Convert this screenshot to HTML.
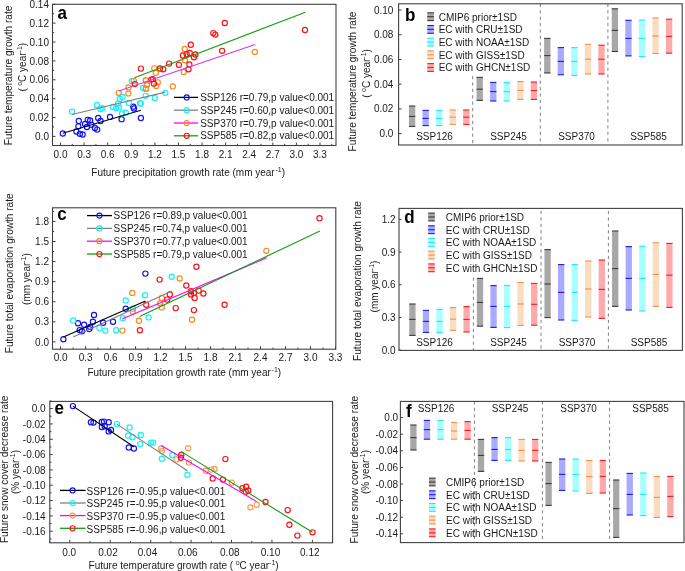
<!DOCTYPE html>
<html><head><meta charset="utf-8"><title>Figure</title>
<style>html,body{margin:0;padding:0;background:#fff;}svg{display:block;will-change:transform;}text{font-family:"Liberation Sans", sans-serif;}</style>
</head><body>
<svg width="685" height="571" viewBox="0 0 685 571" font-family='"Liberation Sans", sans-serif'>
<rect width="685" height="571" fill="#ffffff"/>
<line x1="52.5" y1="136.4" x2="55.5" y2="136.4" stroke="#404040" stroke-width="1"/>
<text x="49.0" y="140.0" font-size="10" text-anchor="end" font-weight="normal" fill="#1a1a1a" >0.0</text>
<line x1="52.5" y1="117.53" x2="55.5" y2="117.53" stroke="#404040" stroke-width="1"/>
<text x="49.0" y="121.13" font-size="10" text-anchor="end" font-weight="normal" fill="#1a1a1a" >0.02</text>
<line x1="52.5" y1="98.66" x2="55.5" y2="98.66" stroke="#404040" stroke-width="1"/>
<text x="49.0" y="102.25999999999999" font-size="10" text-anchor="end" font-weight="normal" fill="#1a1a1a" >0.04</text>
<line x1="52.5" y1="79.79" x2="55.5" y2="79.79" stroke="#404040" stroke-width="1"/>
<text x="49.0" y="83.39" font-size="10" text-anchor="end" font-weight="normal" fill="#1a1a1a" >0.06</text>
<line x1="52.5" y1="60.92" x2="55.5" y2="60.92" stroke="#404040" stroke-width="1"/>
<text x="49.0" y="64.52" font-size="10" text-anchor="end" font-weight="normal" fill="#1a1a1a" >0.08</text>
<line x1="52.5" y1="42.05" x2="55.5" y2="42.05" stroke="#404040" stroke-width="1"/>
<text x="49.0" y="45.65" font-size="10" text-anchor="end" font-weight="normal" fill="#1a1a1a" >0.10</text>
<line x1="52.5" y1="23.180000000000007" x2="55.5" y2="23.180000000000007" stroke="#404040" stroke-width="1"/>
<text x="49.0" y="26.78000000000001" font-size="10" text-anchor="end" font-weight="normal" fill="#1a1a1a" >0.12</text>
<line x1="52.5" y1="4.310000000000002" x2="55.5" y2="4.310000000000002" stroke="#404040" stroke-width="1"/>
<text x="49.0" y="7.910000000000002" font-size="10" text-anchor="end" font-weight="normal" fill="#1a1a1a" >0.14</text>
<line x1="52.5" y1="126.965" x2="54.15" y2="126.965" stroke="#404040" stroke-width="1"/>
<line x1="52.5" y1="108.095" x2="54.15" y2="108.095" stroke="#404040" stroke-width="1"/>
<line x1="52.5" y1="89.225" x2="54.15" y2="89.225" stroke="#404040" stroke-width="1"/>
<line x1="52.5" y1="70.355" x2="54.15" y2="70.355" stroke="#404040" stroke-width="1"/>
<line x1="52.5" y1="51.485" x2="54.15" y2="51.485" stroke="#404040" stroke-width="1"/>
<line x1="52.5" y1="32.615" x2="54.15" y2="32.615" stroke="#404040" stroke-width="1"/>
<line x1="52.5" y1="13.745000000000005" x2="54.15" y2="13.745000000000005" stroke="#404040" stroke-width="1"/>
<line x1="60.5" y1="145.5" x2="60.5" y2="142.5" stroke="#404040" stroke-width="1"/>
<text x="60.5" y="157.7" font-size="10" text-anchor="middle" font-weight="normal" fill="#1a1a1a" >0.0</text>
<line x1="84.09" y1="145.5" x2="84.09" y2="142.5" stroke="#404040" stroke-width="1"/>
<text x="84.09" y="157.7" font-size="10" text-anchor="middle" font-weight="normal" fill="#1a1a1a" >0.3</text>
<line x1="107.68" y1="145.5" x2="107.68" y2="142.5" stroke="#404040" stroke-width="1"/>
<text x="107.68" y="157.7" font-size="10" text-anchor="middle" font-weight="normal" fill="#1a1a1a" >0.6</text>
<line x1="131.26999999999998" y1="145.5" x2="131.26999999999998" y2="142.5" stroke="#404040" stroke-width="1"/>
<text x="131.26999999999998" y="157.7" font-size="10" text-anchor="middle" font-weight="normal" fill="#1a1a1a" >0.9</text>
<line x1="154.86" y1="145.5" x2="154.86" y2="142.5" stroke="#404040" stroke-width="1"/>
<text x="154.86" y="157.7" font-size="10" text-anchor="middle" font-weight="normal" fill="#1a1a1a" >1.2</text>
<line x1="178.45" y1="145.5" x2="178.45" y2="142.5" stroke="#404040" stroke-width="1"/>
<text x="178.45" y="157.7" font-size="10" text-anchor="middle" font-weight="normal" fill="#1a1a1a" >1.5</text>
<line x1="202.04" y1="145.5" x2="202.04" y2="142.5" stroke="#404040" stroke-width="1"/>
<text x="202.04" y="157.7" font-size="10" text-anchor="middle" font-weight="normal" fill="#1a1a1a" >1.8</text>
<line x1="225.63" y1="145.5" x2="225.63" y2="142.5" stroke="#404040" stroke-width="1"/>
<text x="225.63" y="157.7" font-size="10" text-anchor="middle" font-weight="normal" fill="#1a1a1a" >2.1</text>
<line x1="249.22" y1="145.5" x2="249.22" y2="142.5" stroke="#404040" stroke-width="1"/>
<text x="249.22" y="157.7" font-size="10" text-anchor="middle" font-weight="normal" fill="#1a1a1a" >2.4</text>
<line x1="272.81" y1="145.5" x2="272.81" y2="142.5" stroke="#404040" stroke-width="1"/>
<text x="272.81" y="157.7" font-size="10" text-anchor="middle" font-weight="normal" fill="#1a1a1a" >2.7</text>
<line x1="296.4" y1="145.5" x2="296.4" y2="142.5" stroke="#404040" stroke-width="1"/>
<text x="296.4" y="157.7" font-size="10" text-anchor="middle" font-weight="normal" fill="#1a1a1a" >3.0</text>
<line x1="319.99" y1="145.5" x2="319.99" y2="142.5" stroke="#404040" stroke-width="1"/>
<text x="319.99" y="157.7" font-size="10" text-anchor="middle" font-weight="normal" fill="#1a1a1a" >3.3</text>
<line x1="72.295" y1="145.5" x2="72.295" y2="143.85" stroke="#404040" stroke-width="1"/>
<line x1="95.885" y1="145.5" x2="95.885" y2="143.85" stroke="#404040" stroke-width="1"/>
<line x1="119.475" y1="145.5" x2="119.475" y2="143.85" stroke="#404040" stroke-width="1"/>
<line x1="143.065" y1="145.5" x2="143.065" y2="143.85" stroke="#404040" stroke-width="1"/>
<line x1="166.655" y1="145.5" x2="166.655" y2="143.85" stroke="#404040" stroke-width="1"/>
<line x1="190.245" y1="145.5" x2="190.245" y2="143.85" stroke="#404040" stroke-width="1"/>
<line x1="213.83499999999998" y1="145.5" x2="213.83499999999998" y2="143.85" stroke="#404040" stroke-width="1"/>
<line x1="237.425" y1="145.5" x2="237.425" y2="143.85" stroke="#404040" stroke-width="1"/>
<line x1="261.015" y1="145.5" x2="261.015" y2="143.85" stroke="#404040" stroke-width="1"/>
<line x1="284.605" y1="145.5" x2="284.605" y2="143.85" stroke="#404040" stroke-width="1"/>
<line x1="308.195" y1="145.5" x2="308.195" y2="143.85" stroke="#404040" stroke-width="1"/>
<line x1="331.79" y1="145.5" x2="331.79" y2="143.85" stroke="#404040" stroke-width="1"/>
<circle cx="62.8" cy="133.5" r="2.6" fill="none" stroke="#1010ff" stroke-width="1.15"/>
<circle cx="76.4" cy="131.5" r="2.6" fill="none" stroke="#1010ff" stroke-width="1.15"/>
<circle cx="79.9" cy="133.8" r="2.6" fill="none" stroke="#1010ff" stroke-width="1.15"/>
<circle cx="82.6" cy="134.5" r="2.6" fill="none" stroke="#1010ff" stroke-width="1.15"/>
<circle cx="78.8" cy="121" r="2.6" fill="none" stroke="#1010ff" stroke-width="1.15"/>
<circle cx="78.4" cy="126.3" r="2.6" fill="none" stroke="#1010ff" stroke-width="1.15"/>
<circle cx="85.1" cy="124" r="2.6" fill="none" stroke="#1010ff" stroke-width="1.15"/>
<circle cx="87.7" cy="119.8" r="2.6" fill="none" stroke="#1010ff" stroke-width="1.15"/>
<circle cx="90.1" cy="120.5" r="2.6" fill="none" stroke="#1010ff" stroke-width="1.15"/>
<circle cx="86.9" cy="127" r="2.6" fill="none" stroke="#1010ff" stroke-width="1.15"/>
<circle cx="91.5" cy="124.8" r="2.6" fill="none" stroke="#1010ff" stroke-width="1.15"/>
<circle cx="94.9" cy="128" r="2.6" fill="none" stroke="#1010ff" stroke-width="1.15"/>
<circle cx="97.2" cy="129.6" r="2.6" fill="none" stroke="#1010ff" stroke-width="1.15"/>
<circle cx="98.2" cy="118" r="2.6" fill="none" stroke="#1010ff" stroke-width="1.15"/>
<circle cx="100.5" cy="121" r="2.6" fill="none" stroke="#1010ff" stroke-width="1.15"/>
<circle cx="110" cy="116.9" r="2.6" fill="none" stroke="#1010ff" stroke-width="1.15"/>
<circle cx="121.6" cy="119.2" r="2.6" fill="none" stroke="#1010ff" stroke-width="1.15"/>
<circle cx="133.3" cy="106.7" r="2.6" fill="none" stroke="#1010ff" stroke-width="1.15"/>
<circle cx="134" cy="108.5" r="2.6" fill="none" stroke="#1010ff" stroke-width="1.15"/>
<circle cx="140.9" cy="118" r="2.6" fill="none" stroke="#1010ff" stroke-width="1.15"/>
<circle cx="72" cy="111.7" r="2.6" fill="none" stroke="#10f2fa" stroke-width="1.15"/>
<circle cx="96.9" cy="104.9" r="2.6" fill="none" stroke="#10f2fa" stroke-width="1.15"/>
<circle cx="100.5" cy="109" r="2.6" fill="none" stroke="#10f2fa" stroke-width="1.15"/>
<circle cx="102.5" cy="108.2" r="2.6" fill="none" stroke="#10f2fa" stroke-width="1.15"/>
<circle cx="113" cy="107" r="2.6" fill="none" stroke="#10f2fa" stroke-width="1.15"/>
<circle cx="116" cy="107.9" r="2.6" fill="none" stroke="#10f2fa" stroke-width="1.15"/>
<circle cx="119" cy="107.4" r="2.6" fill="none" stroke="#10f2fa" stroke-width="1.15"/>
<circle cx="118" cy="103.7" r="2.6" fill="none" stroke="#10f2fa" stroke-width="1.15"/>
<circle cx="119.8" cy="98.9" r="2.6" fill="none" stroke="#10f2fa" stroke-width="1.15"/>
<circle cx="122.5" cy="96.9" r="2.6" fill="none" stroke="#10f2fa" stroke-width="1.15"/>
<circle cx="128.8" cy="102.9" r="2.6" fill="none" stroke="#10f2fa" stroke-width="1.15"/>
<circle cx="140.1" cy="103.4" r="2.6" fill="none" stroke="#10f2fa" stroke-width="1.15"/>
<circle cx="145.7" cy="95.8" r="2.6" fill="none" stroke="#10f2fa" stroke-width="1.15"/>
<circle cx="143.1" cy="87.9" r="2.6" fill="none" stroke="#10f2fa" stroke-width="1.15"/>
<circle cx="131.8" cy="81.1" r="2.6" fill="none" stroke="#10f2fa" stroke-width="1.15"/>
<circle cx="122" cy="113.5" r="2.6" fill="none" stroke="#10f2fa" stroke-width="1.15"/>
<circle cx="125.8" cy="112.7" r="2.6" fill="none" stroke="#10f2fa" stroke-width="1.15"/>
<circle cx="165.3" cy="92.8" r="2.6" fill="none" stroke="#10f2fa" stroke-width="1.15"/>
<circle cx="154.8" cy="98" r="2.6" fill="none" stroke="#10f2fa" stroke-width="1.15"/>
<circle cx="140.8" cy="103.4" r="2.6" fill="none" stroke="#10f2fa" stroke-width="1.15"/>
<circle cx="118.7" cy="92.8" r="2.6" fill="none" stroke="#f28a22" stroke-width="1.15"/>
<circle cx="128.4" cy="87.4" r="2.6" fill="none" stroke="#f28a22" stroke-width="1.15"/>
<circle cx="128.4" cy="93.4" r="2.6" fill="none" stroke="#f28a22" stroke-width="1.15"/>
<circle cx="133.8" cy="80.8" r="2.6" fill="none" stroke="#f28a22" stroke-width="1.15"/>
<circle cx="145.8" cy="80.3" r="2.6" fill="none" stroke="#f28a22" stroke-width="1.15"/>
<circle cx="146.9" cy="84.8" r="2.6" fill="none" stroke="#f28a22" stroke-width="1.15"/>
<circle cx="145.8" cy="88.9" r="2.6" fill="none" stroke="#f28a22" stroke-width="1.15"/>
<circle cx="172.8" cy="86.4" r="2.6" fill="none" stroke="#f28a22" stroke-width="1.15"/>
<circle cx="146" cy="80.3" r="2.6" fill="none" stroke="#f28a22" stroke-width="1.15"/>
<circle cx="146.8" cy="84.5" r="2.6" fill="none" stroke="#f28a22" stroke-width="1.15"/>
<circle cx="146" cy="88.6" r="2.6" fill="none" stroke="#f28a22" stroke-width="1.15"/>
<circle cx="156.3" cy="85.9" r="2.6" fill="none" stroke="#f28a22" stroke-width="1.15"/>
<circle cx="157.8" cy="82.3" r="2.6" fill="none" stroke="#f28a22" stroke-width="1.15"/>
<circle cx="154.3" cy="68.3" r="2.6" fill="none" stroke="#f28a22" stroke-width="1.15"/>
<circle cx="155.8" cy="72.8" r="2.6" fill="none" stroke="#f28a22" stroke-width="1.15"/>
<circle cx="183.7" cy="72" r="2.6" fill="none" stroke="#f28a22" stroke-width="1.15"/>
<circle cx="184.7" cy="48.9" r="2.6" fill="none" stroke="#f28a22" stroke-width="1.15"/>
<circle cx="184.9" cy="60.2" r="2.6" fill="none" stroke="#f28a22" stroke-width="1.15"/>
<circle cx="254.8" cy="52" r="2.6" fill="none" stroke="#f28a22" stroke-width="1.15"/>
<circle cx="140.9" cy="68.6" r="2.6" fill="none" stroke="#ff1010" stroke-width="1.15"/>
<circle cx="134.8" cy="84.1" r="2.6" fill="none" stroke="#ff1010" stroke-width="1.15"/>
<circle cx="151.4" cy="79.6" r="2.6" fill="none" stroke="#ff1010" stroke-width="1.15"/>
<circle cx="224.8" cy="23" r="2.6" fill="none" stroke="#ff1010" stroke-width="1.15"/>
<circle cx="213.3" cy="33.1" r="2.6" fill="none" stroke="#ff1010" stroke-width="1.15"/>
<circle cx="215.3" cy="34.6" r="2.6" fill="none" stroke="#ff1010" stroke-width="1.15"/>
<circle cx="190.8" cy="44.7" r="2.6" fill="none" stroke="#ff1010" stroke-width="1.15"/>
<circle cx="222.1" cy="50.8" r="2.6" fill="none" stroke="#ff1010" stroke-width="1.15"/>
<circle cx="182.9" cy="55.4" r="2.6" fill="none" stroke="#ff1010" stroke-width="1.15"/>
<circle cx="186.7" cy="54.2" r="2.6" fill="none" stroke="#ff1010" stroke-width="1.15"/>
<circle cx="189.7" cy="53" r="2.6" fill="none" stroke="#ff1010" stroke-width="1.15"/>
<circle cx="195.4" cy="54.5" r="2.6" fill="none" stroke="#ff1010" stroke-width="1.15"/>
<circle cx="193.9" cy="57.2" r="2.6" fill="none" stroke="#ff1010" stroke-width="1.15"/>
<circle cx="178.9" cy="64.8" r="2.6" fill="none" stroke="#ff1010" stroke-width="1.15"/>
<circle cx="189.4" cy="64.5" r="2.6" fill="none" stroke="#ff1010" stroke-width="1.15"/>
<circle cx="188.5" cy="69.3" r="2.6" fill="none" stroke="#ff1010" stroke-width="1.15"/>
<circle cx="169.1" cy="63.6" r="2.6" fill="none" stroke="#ff1010" stroke-width="1.15"/>
<circle cx="163.3" cy="69.3" r="2.6" fill="none" stroke="#ff1010" stroke-width="1.15"/>
<circle cx="160" cy="68.5" r="2.6" fill="none" stroke="#ff1010" stroke-width="1.15"/>
<circle cx="152.8" cy="79.1" r="2.6" fill="none" stroke="#ff1010" stroke-width="1.15"/>
<circle cx="153.9" cy="83.6" r="2.6" fill="none" stroke="#ff1010" stroke-width="1.15"/>
<circle cx="305" cy="30" r="2.6" fill="none" stroke="#ff1010" stroke-width="1.15"/>
<line x1="62.8" y1="133.2" x2="140.9" y2="110.2" stroke="#000000" stroke-width="1.1"/>
<line x1="72" y1="114.5" x2="165.3" y2="92.1" stroke="#808080" stroke-width="1.1"/>
<line x1="118.7" y1="90.9" x2="255.2" y2="44.4" stroke="#cc3cf0" stroke-width="1.1"/>
<line x1="134.5" y1="77.8" x2="305.4" y2="12.2" stroke="#10a010" stroke-width="1.1"/>
<rect x="52.5" y="4.3" width="283.5" height="141.2" fill="none" stroke="#404040" stroke-width="1.1"/>
<text x="0" y="0" font-size="17" font-weight="bold" fill="#000" transform="translate(57.4,18.6) scale(1,1.08)">a</text>
<line x1="174" y1="97.4" x2="198" y2="97.4" stroke="#000000" stroke-width="1.3"/>
<circle cx="186.7" cy="97.4" r="2.55" fill="none" stroke="#1010ff" stroke-width="1.15"/>
<text x="200.2" y="101.0" font-size="10" text-anchor="start" font-weight="normal" fill="#1a1a1a" >SSP126 r=0.79,p value&lt;0.001</text>
<line x1="174" y1="110.2" x2="198" y2="110.2" stroke="#808080" stroke-width="1.3"/>
<circle cx="186.7" cy="110.2" r="2.55" fill="none" stroke="#10f2fa" stroke-width="1.15"/>
<text x="200.2" y="113.8" font-size="10" text-anchor="start" font-weight="normal" fill="#1a1a1a" >SSP245 r=0.60,p value&lt;0.001</text>
<line x1="174" y1="123.0" x2="198" y2="123.0" stroke="#ff00ff" stroke-width="1.3"/>
<circle cx="186.7" cy="123.0" r="2.55" fill="none" stroke="#f28a22" stroke-width="1.15"/>
<text x="200.2" y="126.6" font-size="10" text-anchor="start" font-weight="normal" fill="#1a1a1a" >SSP370 r=0.79,p value&lt;0.001</text>
<line x1="174" y1="135.8" x2="198" y2="135.8" stroke="#10a010" stroke-width="1.3"/>
<circle cx="186.7" cy="135.8" r="2.55" fill="none" stroke="#ff1010" stroke-width="1.15"/>
<text x="200.2" y="139.4" font-size="10" text-anchor="start" font-weight="normal" fill="#1a1a1a" >SSP585 r=0.82,p value&lt;0.001</text>
<text x="0" y="0" font-size="10.1" text-anchor="middle" fill="#1a1a1a" transform="translate(11.9,75.45) rotate(-90)">Future temperature growth rate</text>
<text x="0" y="0" font-size="10" text-anchor="middle" fill="#1a1a1a" transform="translate(26.0,67.2) rotate(-90)">(<tspan font-size="7" dy="-4" dx="2.4">o</tspan><tspan dy="4">C year</tspan><tspan font-size="7" dy="-4">-1</tspan><tspan dy="4">)</tspan></text>
<text x="91.3" y="175.7" font-size="10" text-anchor="start" font-weight="normal" fill="#1a1a1a" >Future precipitation growth rate (mm year<tspan font-size="7" dy="-4" dx="0.8">-1</tspan><tspan dy="4">)</tspan></text>
<line x1="52.5" y1="341.9" x2="55.5" y2="341.9" stroke="#404040" stroke-width="1"/>
<text x="49.0" y="345.5" font-size="10" text-anchor="end" font-weight="normal" fill="#1a1a1a" >0.0</text>
<line x1="52.5" y1="321.82" x2="55.5" y2="321.82" stroke="#404040" stroke-width="1"/>
<text x="49.0" y="325.42" font-size="10" text-anchor="end" font-weight="normal" fill="#1a1a1a" >0.3</text>
<line x1="52.5" y1="301.74" x2="55.5" y2="301.74" stroke="#404040" stroke-width="1"/>
<text x="49.0" y="305.34000000000003" font-size="10" text-anchor="end" font-weight="normal" fill="#1a1a1a" >0.6</text>
<line x1="52.5" y1="281.65999999999997" x2="55.5" y2="281.65999999999997" stroke="#404040" stroke-width="1"/>
<text x="49.0" y="285.26" font-size="10" text-anchor="end" font-weight="normal" fill="#1a1a1a" >0.9</text>
<line x1="52.5" y1="261.58" x2="55.5" y2="261.58" stroke="#404040" stroke-width="1"/>
<text x="49.0" y="265.18" font-size="10" text-anchor="end" font-weight="normal" fill="#1a1a1a" >1.2</text>
<line x1="52.5" y1="241.5" x2="55.5" y2="241.5" stroke="#404040" stroke-width="1"/>
<text x="49.0" y="245.1" font-size="10" text-anchor="end" font-weight="normal" fill="#1a1a1a" >1.5</text>
<line x1="52.5" y1="221.42" x2="55.5" y2="221.42" stroke="#404040" stroke-width="1"/>
<text x="49.0" y="225.01999999999998" font-size="10" text-anchor="end" font-weight="normal" fill="#1a1a1a" >1.8</text>
<line x1="52.5" y1="331.86" x2="54.15" y2="331.86" stroke="#404040" stroke-width="1"/>
<line x1="52.5" y1="311.78" x2="54.15" y2="311.78" stroke="#404040" stroke-width="1"/>
<line x1="52.5" y1="291.7" x2="54.15" y2="291.7" stroke="#404040" stroke-width="1"/>
<line x1="52.5" y1="271.62" x2="54.15" y2="271.62" stroke="#404040" stroke-width="1"/>
<line x1="52.5" y1="251.54" x2="54.15" y2="251.54" stroke="#404040" stroke-width="1"/>
<line x1="52.5" y1="231.45999999999998" x2="54.15" y2="231.45999999999998" stroke="#404040" stroke-width="1"/>
<line x1="52.5" y1="211.38" x2="54.15" y2="211.38" stroke="#404040" stroke-width="1"/>
<line x1="60.6" y1="349.2" x2="60.6" y2="346.2" stroke="#404040" stroke-width="1"/>
<text x="60.6" y="361.2" font-size="10" text-anchor="middle" font-weight="normal" fill="#1a1a1a" >0.0</text>
<line x1="85.59" y1="349.2" x2="85.59" y2="346.2" stroke="#404040" stroke-width="1"/>
<text x="85.59" y="361.2" font-size="10" text-anchor="middle" font-weight="normal" fill="#1a1a1a" >0.3</text>
<line x1="110.58" y1="349.2" x2="110.58" y2="346.2" stroke="#404040" stroke-width="1"/>
<text x="110.58" y="361.2" font-size="10" text-anchor="middle" font-weight="normal" fill="#1a1a1a" >0.6</text>
<line x1="135.57" y1="349.2" x2="135.57" y2="346.2" stroke="#404040" stroke-width="1"/>
<text x="135.57" y="361.2" font-size="10" text-anchor="middle" font-weight="normal" fill="#1a1a1a" >0.9</text>
<line x1="160.56" y1="349.2" x2="160.56" y2="346.2" stroke="#404040" stroke-width="1"/>
<text x="160.56" y="361.2" font-size="10" text-anchor="middle" font-weight="normal" fill="#1a1a1a" >1.2</text>
<line x1="185.54999999999998" y1="349.2" x2="185.54999999999998" y2="346.2" stroke="#404040" stroke-width="1"/>
<text x="185.54999999999998" y="361.2" font-size="10" text-anchor="middle" font-weight="normal" fill="#1a1a1a" >1.5</text>
<line x1="210.54" y1="349.2" x2="210.54" y2="346.2" stroke="#404040" stroke-width="1"/>
<text x="210.54" y="361.2" font-size="10" text-anchor="middle" font-weight="normal" fill="#1a1a1a" >1.8</text>
<line x1="235.52999999999997" y1="349.2" x2="235.52999999999997" y2="346.2" stroke="#404040" stroke-width="1"/>
<text x="235.52999999999997" y="361.2" font-size="10" text-anchor="middle" font-weight="normal" fill="#1a1a1a" >2.1</text>
<line x1="260.52" y1="349.2" x2="260.52" y2="346.2" stroke="#404040" stroke-width="1"/>
<text x="260.52" y="361.2" font-size="10" text-anchor="middle" font-weight="normal" fill="#1a1a1a" >2.4</text>
<line x1="285.51" y1="349.2" x2="285.51" y2="346.2" stroke="#404040" stroke-width="1"/>
<text x="285.51" y="361.2" font-size="10" text-anchor="middle" font-weight="normal" fill="#1a1a1a" >2.7</text>
<line x1="310.5" y1="349.2" x2="310.5" y2="346.2" stroke="#404040" stroke-width="1"/>
<text x="310.5" y="361.2" font-size="10" text-anchor="middle" font-weight="normal" fill="#1a1a1a" >3.0</text>
<line x1="335.49" y1="349.2" x2="335.49" y2="346.2" stroke="#404040" stroke-width="1"/>
<text x="335.49" y="361.2" font-size="10" text-anchor="middle" font-weight="normal" fill="#1a1a1a" >3.3</text>
<line x1="73.095" y1="349.2" x2="73.095" y2="347.55" stroke="#404040" stroke-width="1"/>
<line x1="98.08500000000001" y1="349.2" x2="98.08500000000001" y2="347.55" stroke="#404040" stroke-width="1"/>
<line x1="123.07499999999999" y1="349.2" x2="123.07499999999999" y2="347.55" stroke="#404040" stroke-width="1"/>
<line x1="148.065" y1="349.2" x2="148.065" y2="347.55" stroke="#404040" stroke-width="1"/>
<line x1="173.055" y1="349.2" x2="173.055" y2="347.55" stroke="#404040" stroke-width="1"/>
<line x1="198.045" y1="349.2" x2="198.045" y2="347.55" stroke="#404040" stroke-width="1"/>
<line x1="223.03499999999997" y1="349.2" x2="223.03499999999997" y2="347.55" stroke="#404040" stroke-width="1"/>
<line x1="248.02499999999998" y1="349.2" x2="248.02499999999998" y2="347.55" stroke="#404040" stroke-width="1"/>
<line x1="273.015" y1="349.2" x2="273.015" y2="347.55" stroke="#404040" stroke-width="1"/>
<line x1="298.005" y1="349.2" x2="298.005" y2="347.55" stroke="#404040" stroke-width="1"/>
<line x1="322.995" y1="349.2" x2="322.995" y2="347.55" stroke="#404040" stroke-width="1"/>
<circle cx="63.4" cy="339.3" r="2.6" fill="none" stroke="#1010ff" stroke-width="1.15"/>
<circle cx="78" cy="323.3" r="2.6" fill="none" stroke="#1010ff" stroke-width="1.15"/>
<circle cx="84.1" cy="324.7" r="2.6" fill="none" stroke="#1010ff" stroke-width="1.15"/>
<circle cx="79.7" cy="330.1" r="2.6" fill="none" stroke="#1010ff" stroke-width="1.15"/>
<circle cx="81.9" cy="331.3" r="2.6" fill="none" stroke="#1010ff" stroke-width="1.15"/>
<circle cx="89.2" cy="329.1" r="2.6" fill="none" stroke="#1010ff" stroke-width="1.15"/>
<circle cx="90.2" cy="326.9" r="2.6" fill="none" stroke="#1010ff" stroke-width="1.15"/>
<circle cx="92.9" cy="321.8" r="2.6" fill="none" stroke="#1010ff" stroke-width="1.15"/>
<circle cx="94" cy="315" r="2.6" fill="none" stroke="#1010ff" stroke-width="1.15"/>
<circle cx="103.1" cy="322.8" r="2.6" fill="none" stroke="#1010ff" stroke-width="1.15"/>
<circle cx="113" cy="321.8" r="2.6" fill="none" stroke="#1010ff" stroke-width="1.15"/>
<circle cx="125.7" cy="308.7" r="2.6" fill="none" stroke="#1010ff" stroke-width="1.15"/>
<circle cx="145.4" cy="273.6" r="2.6" fill="none" stroke="#1010ff" stroke-width="1.15"/>
<circle cx="73.2" cy="320.4" r="2.6" fill="none" stroke="#10f2fa" stroke-width="1.15"/>
<circle cx="99.4" cy="328.1" r="2.6" fill="none" stroke="#10f2fa" stroke-width="1.15"/>
<circle cx="105.3" cy="330.6" r="2.6" fill="none" stroke="#10f2fa" stroke-width="1.15"/>
<circle cx="116.2" cy="330.3" r="2.6" fill="none" stroke="#10f2fa" stroke-width="1.15"/>
<circle cx="122.8" cy="318.2" r="2.6" fill="none" stroke="#10f2fa" stroke-width="1.15"/>
<circle cx="125.7" cy="300.4" r="2.6" fill="none" stroke="#10f2fa" stroke-width="1.15"/>
<circle cx="133" cy="308.7" r="2.6" fill="none" stroke="#10f2fa" stroke-width="1.15"/>
<circle cx="145.1" cy="295.3" r="2.6" fill="none" stroke="#10f2fa" stroke-width="1.15"/>
<circle cx="148.6" cy="317.4" r="2.6" fill="none" stroke="#10f2fa" stroke-width="1.15"/>
<circle cx="171.7" cy="276.7" r="2.6" fill="none" stroke="#10f2fa" stroke-width="1.15"/>
<circle cx="132.3" cy="292.9" r="2.6" fill="none" stroke="#f28a22" stroke-width="1.15"/>
<circle cx="132.7" cy="311.6" r="2.6" fill="none" stroke="#f28a22" stroke-width="1.15"/>
<circle cx="138.9" cy="320.7" r="2.6" fill="none" stroke="#f28a22" stroke-width="1.15"/>
<circle cx="122.4" cy="330.6" r="2.6" fill="none" stroke="#f28a22" stroke-width="1.15"/>
<circle cx="179.7" cy="278.5" r="2.6" fill="none" stroke="#f28a22" stroke-width="1.15"/>
<circle cx="161.8" cy="297.9" r="2.6" fill="none" stroke="#f28a22" stroke-width="1.15"/>
<circle cx="161.8" cy="307.4" r="2.6" fill="none" stroke="#f28a22" stroke-width="1.15"/>
<circle cx="160.3" cy="303.3" r="2.6" fill="none" stroke="#f28a22" stroke-width="1.15"/>
<circle cx="192" cy="319.8" r="2.6" fill="none" stroke="#f28a22" stroke-width="1.15"/>
<circle cx="266.4" cy="250.8" r="2.6" fill="none" stroke="#f28a22" stroke-width="1.15"/>
<circle cx="146.2" cy="304.7" r="2.6" fill="none" stroke="#ff1010" stroke-width="1.15"/>
<circle cx="139.9" cy="330.3" r="2.6" fill="none" stroke="#ff1010" stroke-width="1.15"/>
<circle cx="196.4" cy="266.8" r="2.6" fill="none" stroke="#ff1010" stroke-width="1.15"/>
<circle cx="159.6" cy="279.6" r="2.6" fill="none" stroke="#ff1010" stroke-width="1.15"/>
<circle cx="186.3" cy="285.5" r="2.6" fill="none" stroke="#ff1010" stroke-width="1.15"/>
<circle cx="191" cy="291.2" r="2.6" fill="none" stroke="#ff1010" stroke-width="1.15"/>
<circle cx="193.9" cy="293.1" r="2.6" fill="none" stroke="#ff1010" stroke-width="1.15"/>
<circle cx="198.7" cy="290.6" r="2.6" fill="none" stroke="#ff1010" stroke-width="1.15"/>
<circle cx="203.4" cy="293.5" r="2.6" fill="none" stroke="#ff1010" stroke-width="1.15"/>
<circle cx="191" cy="294.5" r="2.6" fill="none" stroke="#ff1010" stroke-width="1.15"/>
<circle cx="194.6" cy="297.9" r="2.6" fill="none" stroke="#ff1010" stroke-width="1.15"/>
<circle cx="169.8" cy="294.5" r="2.6" fill="none" stroke="#ff1010" stroke-width="1.15"/>
<circle cx="167.2" cy="299.6" r="2.6" fill="none" stroke="#ff1010" stroke-width="1.15"/>
<circle cx="175.7" cy="308.1" r="2.6" fill="none" stroke="#ff1010" stroke-width="1.15"/>
<circle cx="193.9" cy="310.1" r="2.6" fill="none" stroke="#ff1010" stroke-width="1.15"/>
<circle cx="224.6" cy="304.7" r="2.6" fill="none" stroke="#ff1010" stroke-width="1.15"/>
<circle cx="319.5" cy="218.2" r="2.6" fill="none" stroke="#ff1010" stroke-width="1.15"/>
<line x1="63.4" y1="336.9" x2="145.4" y2="301" stroke="#000000" stroke-width="1.1"/>
<line x1="73.2" y1="336.9" x2="171.7" y2="290.9" stroke="#808080" stroke-width="1.1"/>
<line x1="122" y1="318.9" x2="266.7" y2="257.8" stroke="#ff00ff" stroke-width="1.1"/>
<line x1="139.6" y1="316.4" x2="319.9" y2="231.1" stroke="#10a010" stroke-width="1.1"/>
<rect x="52.5" y="207.8" width="283.3" height="141.39999999999998" fill="none" stroke="#404040" stroke-width="1.1"/>
<text x="0" y="0" font-size="17" font-weight="bold" fill="#000" transform="translate(57.3,219.8) scale(1,1.08)">c</text>
<line x1="87" y1="215.6" x2="112" y2="215.6" stroke="#000000" stroke-width="1.3"/>
<circle cx="99.4" cy="215.6" r="2.55" fill="none" stroke="#1010ff" stroke-width="1.15"/>
<text x="113.6" y="219.2" font-size="10" text-anchor="start" font-weight="normal" fill="#1a1a1a" >SSP126 r=0.89,p value&lt;0.001</text>
<line x1="87" y1="228.4" x2="112" y2="228.4" stroke="#808080" stroke-width="1.3"/>
<circle cx="99.4" cy="228.4" r="2.55" fill="none" stroke="#10f2fa" stroke-width="1.15"/>
<text x="113.6" y="232.0" font-size="10" text-anchor="start" font-weight="normal" fill="#1a1a1a" >SSP245 r=0.74,p value&lt;0.001</text>
<line x1="87" y1="241.2" x2="112" y2="241.2" stroke="#ff00ff" stroke-width="1.3"/>
<circle cx="99.4" cy="241.2" r="2.55" fill="none" stroke="#f28a22" stroke-width="1.15"/>
<text x="113.6" y="244.79999999999998" font-size="10" text-anchor="start" font-weight="normal" fill="#1a1a1a" >SSP370 r=0.77,p value&lt;0.001</text>
<line x1="87" y1="254.0" x2="112" y2="254.0" stroke="#10a010" stroke-width="1.3"/>
<circle cx="99.4" cy="254.0" r="2.55" fill="none" stroke="#ff1010" stroke-width="1.15"/>
<text x="113.6" y="257.6" font-size="10" text-anchor="start" font-weight="normal" fill="#1a1a1a" >SSP585 r=0.79,p value&lt;0.001</text>
<text x="0" y="0" font-size="10.1" text-anchor="middle" fill="#1a1a1a" transform="translate(12.9,273.3) rotate(-90)">Future total evaporation growth rate</text>
<text x="0" y="0" font-size="10" text-anchor="middle" fill="#1a1a1a" transform="translate(29.5,279) rotate(-90)">(mm year<tspan font-size="7" dy="-4">-1</tspan><tspan dy="4">)</tspan></text>
<text x="87.4" y="375.7" font-size="10" text-anchor="start" font-weight="normal" fill="#1a1a1a" >Future precipitation growth rate (mm year<tspan font-size="7" dy="-4" dx="0.8">-1</tspan><tspan dy="4">)</tspan></text>
<line x1="49.8" y1="408.6" x2="52.8" y2="408.6" stroke="#404040" stroke-width="1"/>
<text x="45.599999999999994" y="412.20000000000005" font-size="10" text-anchor="end" font-weight="normal" fill="#1a1a1a" >0.0</text>
<line x1="49.8" y1="423.93" x2="52.8" y2="423.93" stroke="#404040" stroke-width="1"/>
<text x="45.599999999999994" y="427.53000000000003" font-size="10" text-anchor="end" font-weight="normal" fill="#1a1a1a" >-0.02</text>
<line x1="49.8" y1="439.26000000000005" x2="52.8" y2="439.26000000000005" stroke="#404040" stroke-width="1"/>
<text x="45.599999999999994" y="442.86000000000007" font-size="10" text-anchor="end" font-weight="normal" fill="#1a1a1a" >-0.04</text>
<line x1="49.8" y1="454.59000000000003" x2="52.8" y2="454.59000000000003" stroke="#404040" stroke-width="1"/>
<text x="45.599999999999994" y="458.19000000000005" font-size="10" text-anchor="end" font-weight="normal" fill="#1a1a1a" >-0.06</text>
<line x1="49.8" y1="469.92" x2="52.8" y2="469.92" stroke="#404040" stroke-width="1"/>
<text x="45.599999999999994" y="473.52000000000004" font-size="10" text-anchor="end" font-weight="normal" fill="#1a1a1a" >-0.08</text>
<line x1="49.8" y1="485.25" x2="52.8" y2="485.25" stroke="#404040" stroke-width="1"/>
<text x="45.599999999999994" y="488.85" font-size="10" text-anchor="end" font-weight="normal" fill="#1a1a1a" >-0.10</text>
<line x1="49.8" y1="500.58000000000004" x2="52.8" y2="500.58000000000004" stroke="#404040" stroke-width="1"/>
<text x="45.599999999999994" y="504.18000000000006" font-size="10" text-anchor="end" font-weight="normal" fill="#1a1a1a" >-0.12</text>
<line x1="49.8" y1="515.9100000000001" x2="52.8" y2="515.9100000000001" stroke="#404040" stroke-width="1"/>
<text x="45.599999999999994" y="519.5100000000001" font-size="10" text-anchor="end" font-weight="normal" fill="#1a1a1a" >-0.14</text>
<line x1="49.8" y1="531.24" x2="52.8" y2="531.24" stroke="#404040" stroke-width="1"/>
<text x="45.599999999999994" y="534.84" font-size="10" text-anchor="end" font-weight="normal" fill="#1a1a1a" >-0.16</text>
<line x1="49.8" y1="416.265" x2="51.449999999999996" y2="416.265" stroke="#404040" stroke-width="1"/>
<line x1="49.8" y1="431.595" x2="51.449999999999996" y2="431.595" stroke="#404040" stroke-width="1"/>
<line x1="49.8" y1="446.92500000000007" x2="51.449999999999996" y2="446.92500000000007" stroke="#404040" stroke-width="1"/>
<line x1="49.8" y1="462.255" x2="51.449999999999996" y2="462.255" stroke="#404040" stroke-width="1"/>
<line x1="49.8" y1="477.58500000000004" x2="51.449999999999996" y2="477.58500000000004" stroke="#404040" stroke-width="1"/>
<line x1="49.8" y1="492.915" x2="51.449999999999996" y2="492.915" stroke="#404040" stroke-width="1"/>
<line x1="49.8" y1="508.24500000000006" x2="51.449999999999996" y2="508.24500000000006" stroke="#404040" stroke-width="1"/>
<line x1="49.8" y1="523.575" x2="51.449999999999996" y2="523.575" stroke="#404040" stroke-width="1"/>
<line x1="49.8" y1="400.94" x2="51.449999999999996" y2="400.94" stroke="#404040" stroke-width="1"/>
<line x1="49.8" y1="538.9" x2="51.449999999999996" y2="538.9" stroke="#404040" stroke-width="1"/>
<line x1="69.8" y1="542.8" x2="69.8" y2="539.8" stroke="#404040" stroke-width="1"/>
<text x="69.2" y="555.5" font-size="10" text-anchor="middle" font-weight="normal" fill="#1a1a1a" >0.0</text>
<line x1="110.22999999999999" y1="542.8" x2="110.22999999999999" y2="539.8" stroke="#404040" stroke-width="1"/>
<text x="108" y="555.5" font-size="10" text-anchor="middle" font-weight="normal" fill="#1a1a1a" >0.02</text>
<line x1="150.66" y1="542.8" x2="150.66" y2="539.8" stroke="#404040" stroke-width="1"/>
<text x="147.5" y="555.5" font-size="10" text-anchor="middle" font-weight="normal" fill="#1a1a1a" >0.04</text>
<line x1="191.08999999999997" y1="542.8" x2="191.08999999999997" y2="539.8" stroke="#404040" stroke-width="1"/>
<text x="187.8" y="555.5" font-size="10" text-anchor="middle" font-weight="normal" fill="#1a1a1a" >0.06</text>
<line x1="231.51999999999998" y1="542.8" x2="231.51999999999998" y2="539.8" stroke="#404040" stroke-width="1"/>
<text x="229.8" y="555.5" font-size="10" text-anchor="middle" font-weight="normal" fill="#1a1a1a" >0.08</text>
<line x1="271.95" y1="542.8" x2="271.95" y2="539.8" stroke="#404040" stroke-width="1"/>
<text x="270.5" y="555.5" font-size="10" text-anchor="middle" font-weight="normal" fill="#1a1a1a" >0.10</text>
<line x1="312.38" y1="542.8" x2="312.38" y2="539.8" stroke="#404040" stroke-width="1"/>
<text x="309.8" y="555.5" font-size="10" text-anchor="middle" font-weight="normal" fill="#1a1a1a" >0.12</text>
<line x1="90.01499999999999" y1="542.8" x2="90.01499999999999" y2="541.15" stroke="#404040" stroke-width="1"/>
<line x1="130.445" y1="542.8" x2="130.445" y2="541.15" stroke="#404040" stroke-width="1"/>
<line x1="170.875" y1="542.8" x2="170.875" y2="541.15" stroke="#404040" stroke-width="1"/>
<line x1="211.30499999999998" y1="542.8" x2="211.30499999999998" y2="541.15" stroke="#404040" stroke-width="1"/>
<line x1="251.73499999999999" y1="542.8" x2="251.73499999999999" y2="541.15" stroke="#404040" stroke-width="1"/>
<line x1="292.16499999999996" y1="542.8" x2="292.16499999999996" y2="541.15" stroke="#404040" stroke-width="1"/>
<line x1="49.599999999999994" y1="542.8" x2="49.599999999999994" y2="541.15" stroke="#404040" stroke-width="1"/>
<line x1="332.58" y1="542.8" x2="332.58" y2="541.15" stroke="#404040" stroke-width="1"/>
<circle cx="72.9" cy="406.1" r="2.6" fill="none" stroke="#1010ff" stroke-width="1.15"/>
<circle cx="90.9" cy="422.2" r="2.6" fill="none" stroke="#1010ff" stroke-width="1.15"/>
<circle cx="93.5" cy="422.6" r="2.6" fill="none" stroke="#1010ff" stroke-width="1.15"/>
<circle cx="101.8" cy="421.9" r="2.6" fill="none" stroke="#1010ff" stroke-width="1.15"/>
<circle cx="104" cy="421.6" r="2.6" fill="none" stroke="#1010ff" stroke-width="1.15"/>
<circle cx="108.7" cy="422.2" r="2.6" fill="none" stroke="#1010ff" stroke-width="1.15"/>
<circle cx="101.8" cy="427" r="2.6" fill="none" stroke="#1010ff" stroke-width="1.15"/>
<circle cx="104.7" cy="426.3" r="2.6" fill="none" stroke="#1010ff" stroke-width="1.15"/>
<circle cx="108.7" cy="431.4" r="2.6" fill="none" stroke="#1010ff" stroke-width="1.15"/>
<circle cx="111" cy="429.9" r="2.6" fill="none" stroke="#1010ff" stroke-width="1.15"/>
<circle cx="128.8" cy="447.4" r="2.6" fill="none" stroke="#1010ff" stroke-width="1.15"/>
<circle cx="133.9" cy="448.5" r="2.6" fill="none" stroke="#1010ff" stroke-width="1.15"/>
<circle cx="116.9" cy="424.1" r="2.6" fill="none" stroke="#10f2fa" stroke-width="1.15"/>
<circle cx="129.6" cy="427.4" r="2.6" fill="none" stroke="#10f2fa" stroke-width="1.15"/>
<circle cx="128.1" cy="435.5" r="2.6" fill="none" stroke="#10f2fa" stroke-width="1.15"/>
<circle cx="132.5" cy="437.2" r="2.6" fill="none" stroke="#10f2fa" stroke-width="1.15"/>
<circle cx="140.8" cy="435" r="2.6" fill="none" stroke="#10f2fa" stroke-width="1.15"/>
<circle cx="140.2" cy="444.1" r="2.6" fill="none" stroke="#10f2fa" stroke-width="1.15"/>
<circle cx="151" cy="442.6" r="2.6" fill="none" stroke="#10f2fa" stroke-width="1.15"/>
<circle cx="153.1" cy="442.6" r="2.6" fill="none" stroke="#10f2fa" stroke-width="1.15"/>
<circle cx="161.9" cy="458.7" r="2.6" fill="none" stroke="#10f2fa" stroke-width="1.15"/>
<circle cx="172.4" cy="455" r="2.6" fill="none" stroke="#10f2fa" stroke-width="1.15"/>
<circle cx="187.4" cy="474.7" r="2.6" fill="none" stroke="#10f2fa" stroke-width="1.15"/>
<circle cx="161.2" cy="448.5" r="2.6" fill="none" stroke="#f39c50" stroke-width="1.15"/>
<circle cx="161.9" cy="451.1" r="2.6" fill="none" stroke="#f39c50" stroke-width="1.15"/>
<circle cx="188.2" cy="448.2" r="2.6" fill="none" stroke="#f39c50" stroke-width="1.15"/>
<circle cx="176.5" cy="459.4" r="2.6" fill="none" stroke="#f39c50" stroke-width="1.15"/>
<circle cx="188.9" cy="462.6" r="2.6" fill="none" stroke="#f39c50" stroke-width="1.15"/>
<circle cx="205.7" cy="470.8" r="2.6" fill="none" stroke="#f39c50" stroke-width="1.15"/>
<circle cx="211.2" cy="469.6" r="2.6" fill="none" stroke="#f39c50" stroke-width="1.15"/>
<circle cx="214.5" cy="468.9" r="2.6" fill="none" stroke="#f39c50" stroke-width="1.15"/>
<circle cx="231.8" cy="482.6" r="2.6" fill="none" stroke="#f39c50" stroke-width="1.15"/>
<circle cx="250.4" cy="507.4" r="2.6" fill="none" stroke="#f39c50" stroke-width="1.15"/>
<circle cx="256.7" cy="504.8" r="2.6" fill="none" stroke="#f39c50" stroke-width="1.15"/>
<circle cx="181.3" cy="455" r="2.6" fill="none" stroke="#ff1010" stroke-width="1.15"/>
<circle cx="180.9" cy="457.7" r="2.6" fill="none" stroke="#ff1010" stroke-width="1.15"/>
<circle cx="225.4" cy="459.1" r="2.6" fill="none" stroke="#ff1010" stroke-width="1.15"/>
<circle cx="212.7" cy="478.4" r="2.6" fill="none" stroke="#ff1010" stroke-width="1.15"/>
<circle cx="222.9" cy="479.6" r="2.6" fill="none" stroke="#ff1010" stroke-width="1.15"/>
<circle cx="242.4" cy="488.2" r="2.6" fill="none" stroke="#ff1010" stroke-width="1.15"/>
<circle cx="246.1" cy="486.7" r="2.6" fill="none" stroke="#ff1010" stroke-width="1.15"/>
<circle cx="248.2" cy="490.4" r="2.6" fill="none" stroke="#ff1010" stroke-width="1.15"/>
<circle cx="245.8" cy="491.8" r="2.6" fill="none" stroke="#ff1010" stroke-width="1.15"/>
<circle cx="265.5" cy="502" r="2.6" fill="none" stroke="#ff1010" stroke-width="1.15"/>
<circle cx="287.7" cy="510.1" r="2.6" fill="none" stroke="#ff1010" stroke-width="1.15"/>
<circle cx="289.4" cy="524.7" r="2.6" fill="none" stroke="#ff1010" stroke-width="1.15"/>
<circle cx="297.4" cy="535.6" r="2.6" fill="none" stroke="#ff1010" stroke-width="1.15"/>
<circle cx="312.5" cy="532.3" r="2.6" fill="none" stroke="#ff1010" stroke-width="1.15"/>
<line x1="72.9" y1="406.1" x2="133.9" y2="446.7" stroke="#000000" stroke-width="1.1"/>
<line x1="116.9" y1="424.1" x2="187.4" y2="470.8" stroke="#808080" stroke-width="1.1"/>
<line x1="161.2" y1="445.5" x2="256.7" y2="501.6" stroke="#ff00ff" stroke-width="1.1"/>
<line x1="180.9" y1="451.4" x2="312.5" y2="532.3" stroke="#10a010" stroke-width="1.1"/>
<rect x="49.8" y="401.4" width="282.8" height="141.39999999999998" fill="none" stroke="#404040" stroke-width="1.1"/>
<text x="0" y="0" font-size="17" font-weight="bold" fill="#000" transform="translate(54.5,413.6) scale(1,1.08)">e</text>
<line x1="60" y1="490.4" x2="85.6" y2="490.4" stroke="#000000" stroke-width="1.3"/>
<circle cx="72.6" cy="490.4" r="2.55" fill="none" stroke="#1010ff" stroke-width="1.15"/>
<text x="86.6" y="494.79999999999995" font-size="10" text-anchor="start" font-weight="normal" fill="#1a1a1a" textLength="138.6" lengthAdjust="spacing">SSP126 r=-0.95,p value&lt;0.001</text>
<line x1="60" y1="503.0" x2="85.6" y2="503.0" stroke="#808080" stroke-width="1.3"/>
<circle cx="72.6" cy="503.0" r="2.55" fill="none" stroke="#10f2fa" stroke-width="1.15"/>
<text x="86.6" y="507.4" font-size="10" text-anchor="start" font-weight="normal" fill="#1a1a1a" textLength="138.6" lengthAdjust="spacing">SSP245 r=-0.95,p value&lt;0.001</text>
<line x1="60" y1="515.6" x2="85.6" y2="515.6" stroke="#ff00ff" stroke-width="1.3"/>
<circle cx="72.6" cy="515.6" r="2.55" fill="none" stroke="#f39c50" stroke-width="1.15"/>
<text x="86.6" y="520.0" font-size="10" text-anchor="start" font-weight="normal" fill="#1a1a1a" textLength="138.6" lengthAdjust="spacing">SSP370 r=-0.95,p value&lt;0.001</text>
<line x1="60" y1="528.3" x2="85.6" y2="528.3" stroke="#10a010" stroke-width="1.3"/>
<circle cx="72.6" cy="528.3" r="2.55" fill="none" stroke="#ff1010" stroke-width="1.15"/>
<text x="86.6" y="532.6999999999999" font-size="10" text-anchor="start" font-weight="normal" fill="#1a1a1a" textLength="138.6" lengthAdjust="spacing">SSP585 r=-0.96,p value&lt;0.001</text>
<text x="0" y="0" font-size="10.1" text-anchor="middle" fill="#1a1a1a" transform="translate(8.0,469.3) rotate(-90)">Future snow cover decrease rate</text>
<text x="0" y="0" font-size="10" text-anchor="middle" fill="#1a1a1a" transform="translate(18.9,472) rotate(-90)">(% year<tspan font-size="7" dy="-4">-1</tspan><tspan dy="4">)</tspan></text>
<text x="88.6" y="568.8" font-size="10" text-anchor="start" font-weight="normal" fill="#1a1a1a" >Future temperature growth rate (<tspan font-size="7" dy="-4" dx="2.6">o</tspan><tspan dy="4">C year</tspan><tspan font-size="7" dy="-4">-1</tspan><tspan dy="4">)</tspan></text>
<line x1="398.6" y1="133.6" x2="401.6" y2="133.6" stroke="#404040" stroke-width="1"/>
<text x="393.40000000000003" y="137.2" font-size="10" text-anchor="end" font-weight="normal" fill="#1a1a1a" >0.0</text>
<line x1="398.6" y1="108.88" x2="401.6" y2="108.88" stroke="#404040" stroke-width="1"/>
<text x="393.40000000000003" y="112.47999999999999" font-size="10" text-anchor="end" font-weight="normal" fill="#1a1a1a" >0.02</text>
<line x1="398.6" y1="84.16" x2="401.6" y2="84.16" stroke="#404040" stroke-width="1"/>
<text x="393.40000000000003" y="87.75999999999999" font-size="10" text-anchor="end" font-weight="normal" fill="#1a1a1a" >0.04</text>
<line x1="398.6" y1="59.44" x2="401.6" y2="59.44" stroke="#404040" stroke-width="1"/>
<text x="393.40000000000003" y="63.04" font-size="10" text-anchor="end" font-weight="normal" fill="#1a1a1a" >0.06</text>
<line x1="398.6" y1="34.72" x2="401.6" y2="34.72" stroke="#404040" stroke-width="1"/>
<text x="393.40000000000003" y="38.32" font-size="10" text-anchor="end" font-weight="normal" fill="#1a1a1a" >0.08</text>
<line x1="398.6" y1="10.0" x2="401.6" y2="10.0" stroke="#404040" stroke-width="1"/>
<text x="393.40000000000003" y="13.6" font-size="10" text-anchor="end" font-weight="normal" fill="#1a1a1a" >0.10</text>
<rect x="408.95" y="106" width="6.3" height="20.40" fill="#a8a8a8"/>
<line x1="408.95" y1="106" x2="415.25" y2="106" stroke="#3a3a3a" stroke-width="1.1"/>
<line x1="408.95" y1="116.4" x2="415.25" y2="116.4" stroke="#3a3a3a" stroke-width="1.1"/>
<line x1="408.95" y1="126.4" x2="415.25" y2="126.4" stroke="#3a3a3a" stroke-width="1.1"/>
<rect x="422.50" y="110.4" width="6.3" height="15.20" fill="#aaaaff"/>
<line x1="422.50" y1="110.4" x2="428.80" y2="110.4" stroke="#1a1aee" stroke-width="1.1"/>
<line x1="422.50" y1="118.4" x2="428.80" y2="118.4" stroke="#1a1aee" stroke-width="1.1"/>
<line x1="422.50" y1="125.6" x2="428.80" y2="125.6" stroke="#1a1aee" stroke-width="1.1"/>
<rect x="436.05" y="110.4" width="6.3" height="15.20" fill="#a8ffff"/>
<line x1="436.05" y1="110.4" x2="442.35" y2="110.4" stroke="#22e6f6" stroke-width="1.1"/>
<line x1="436.05" y1="118.4" x2="442.35" y2="118.4" stroke="#22e6f6" stroke-width="1.1"/>
<line x1="436.05" y1="125.6" x2="442.35" y2="125.6" stroke="#22e6f6" stroke-width="1.1"/>
<rect x="449.60" y="110" width="6.3" height="14.40" fill="#fcdcc0"/>
<line x1="449.60" y1="110" x2="455.90" y2="110" stroke="#f09048" stroke-width="1.1"/>
<line x1="449.60" y1="117.2" x2="455.90" y2="117.2" stroke="#f09048" stroke-width="1.1"/>
<line x1="449.60" y1="124.4" x2="455.90" y2="124.4" stroke="#f09048" stroke-width="1.1"/>
<rect x="463.15" y="110" width="6.3" height="14.40" fill="#ffaaaa"/>
<line x1="463.15" y1="110" x2="469.45" y2="110" stroke="#f01c1c" stroke-width="1.1"/>
<line x1="463.15" y1="117.2" x2="469.45" y2="117.2" stroke="#f01c1c" stroke-width="1.1"/>
<line x1="463.15" y1="124.4" x2="469.45" y2="124.4" stroke="#f01c1c" stroke-width="1.1"/>
<rect x="476.55" y="77.4" width="6.3" height="23.00" fill="#a8a8a8"/>
<line x1="476.55" y1="77.4" x2="482.85" y2="77.4" stroke="#3a3a3a" stroke-width="1.1"/>
<line x1="476.55" y1="89.2" x2="482.85" y2="89.2" stroke="#3a3a3a" stroke-width="1.1"/>
<line x1="476.55" y1="100.4" x2="482.85" y2="100.4" stroke="#3a3a3a" stroke-width="1.1"/>
<rect x="490.10" y="82.4" width="6.3" height="18.60" fill="#aaaaff"/>
<line x1="490.10" y1="82.4" x2="496.40" y2="82.4" stroke="#1a1aee" stroke-width="1.1"/>
<line x1="490.10" y1="91.6" x2="496.40" y2="91.6" stroke="#1a1aee" stroke-width="1.1"/>
<line x1="490.10" y1="101" x2="496.40" y2="101" stroke="#1a1aee" stroke-width="1.1"/>
<rect x="503.65" y="82.4" width="6.3" height="18.60" fill="#a8ffff"/>
<line x1="503.65" y1="82.4" x2="509.95" y2="82.4" stroke="#22e6f6" stroke-width="1.1"/>
<line x1="503.65" y1="91.6" x2="509.95" y2="91.6" stroke="#22e6f6" stroke-width="1.1"/>
<line x1="503.65" y1="101" x2="509.95" y2="101" stroke="#22e6f6" stroke-width="1.1"/>
<rect x="517.20" y="81.6" width="6.3" height="17.80" fill="#fcdcc0"/>
<line x1="517.20" y1="81.6" x2="523.50" y2="81.6" stroke="#f09048" stroke-width="1.1"/>
<line x1="517.20" y1="90.4" x2="523.50" y2="90.4" stroke="#f09048" stroke-width="1.1"/>
<line x1="517.20" y1="99.4" x2="523.50" y2="99.4" stroke="#f09048" stroke-width="1.1"/>
<rect x="530.75" y="82" width="6.3" height="17.40" fill="#ffaaaa"/>
<line x1="530.75" y1="82" x2="537.05" y2="82" stroke="#f01c1c" stroke-width="1.1"/>
<line x1="530.75" y1="90.6" x2="537.05" y2="90.6" stroke="#f01c1c" stroke-width="1.1"/>
<line x1="530.75" y1="99.4" x2="537.05" y2="99.4" stroke="#f01c1c" stroke-width="1.1"/>
<rect x="544.15" y="38.4" width="6.3" height="34.60" fill="#a8a8a8"/>
<line x1="544.15" y1="38.4" x2="550.45" y2="38.4" stroke="#3a3a3a" stroke-width="1.1"/>
<line x1="544.15" y1="55.6" x2="550.45" y2="55.6" stroke="#3a3a3a" stroke-width="1.1"/>
<line x1="544.15" y1="73" x2="550.45" y2="73" stroke="#3a3a3a" stroke-width="1.1"/>
<rect x="557.70" y="47.6" width="6.3" height="27.20" fill="#aaaaff"/>
<line x1="557.70" y1="47.6" x2="564.00" y2="47.6" stroke="#1a1aee" stroke-width="1.1"/>
<line x1="557.70" y1="61.4" x2="564.00" y2="61.4" stroke="#1a1aee" stroke-width="1.1"/>
<line x1="557.70" y1="74.8" x2="564.00" y2="74.8" stroke="#1a1aee" stroke-width="1.1"/>
<rect x="571.25" y="47.6" width="6.3" height="28.00" fill="#a8ffff"/>
<line x1="571.25" y1="47.6" x2="577.55" y2="47.6" stroke="#22e6f6" stroke-width="1.1"/>
<line x1="571.25" y1="61.4" x2="577.55" y2="61.4" stroke="#22e6f6" stroke-width="1.1"/>
<line x1="571.25" y1="75.6" x2="577.55" y2="75.6" stroke="#22e6f6" stroke-width="1.1"/>
<rect x="584.80" y="44.4" width="6.3" height="29.60" fill="#fcdcc0"/>
<line x1="584.80" y1="44.4" x2="591.10" y2="44.4" stroke="#f09048" stroke-width="1.1"/>
<line x1="584.80" y1="59.2" x2="591.10" y2="59.2" stroke="#f09048" stroke-width="1.1"/>
<line x1="584.80" y1="74" x2="591.10" y2="74" stroke="#f09048" stroke-width="1.1"/>
<rect x="598.35" y="45.2" width="6.3" height="28.80" fill="#ffaaaa"/>
<line x1="598.35" y1="45.2" x2="604.65" y2="45.2" stroke="#f01c1c" stroke-width="1.1"/>
<line x1="598.35" y1="59.2" x2="604.65" y2="59.2" stroke="#f01c1c" stroke-width="1.1"/>
<line x1="598.35" y1="74" x2="604.65" y2="74" stroke="#f01c1c" stroke-width="1.1"/>
<rect x="611.75" y="8.8" width="6.3" height="42.70" fill="#a8a8a8"/>
<line x1="611.75" y1="8.8" x2="618.05" y2="8.8" stroke="#3a3a3a" stroke-width="1.1"/>
<line x1="611.75" y1="30.4" x2="618.05" y2="30.4" stroke="#3a3a3a" stroke-width="1.1"/>
<line x1="611.75" y1="51.5" x2="618.05" y2="51.5" stroke="#3a3a3a" stroke-width="1.1"/>
<rect x="625.30" y="20.3" width="6.3" height="35.60" fill="#aaaaff"/>
<line x1="625.30" y1="20.3" x2="631.60" y2="20.3" stroke="#1a1aee" stroke-width="1.1"/>
<line x1="625.30" y1="38.4" x2="631.60" y2="38.4" stroke="#1a1aee" stroke-width="1.1"/>
<line x1="625.30" y1="55.9" x2="631.60" y2="55.9" stroke="#1a1aee" stroke-width="1.1"/>
<rect x="638.85" y="20.1" width="6.3" height="36.40" fill="#a8ffff"/>
<line x1="638.85" y1="20.1" x2="645.15" y2="20.1" stroke="#22e6f6" stroke-width="1.1"/>
<line x1="638.85" y1="38.4" x2="645.15" y2="38.4" stroke="#22e6f6" stroke-width="1.1"/>
<line x1="638.85" y1="56.5" x2="645.15" y2="56.5" stroke="#22e6f6" stroke-width="1.1"/>
<rect x="652.40" y="17.9" width="6.3" height="35.60" fill="#fcdcc0"/>
<line x1="652.40" y1="17.9" x2="658.70" y2="17.9" stroke="#f09048" stroke-width="1.1"/>
<line x1="652.40" y1="35.9" x2="658.70" y2="35.9" stroke="#f09048" stroke-width="1.1"/>
<line x1="652.40" y1="53.5" x2="658.70" y2="53.5" stroke="#f09048" stroke-width="1.1"/>
<rect x="665.95" y="19.2" width="6.3" height="34.00" fill="#ffaaaa"/>
<line x1="665.95" y1="19.2" x2="672.25" y2="19.2" stroke="#f01c1c" stroke-width="1.1"/>
<line x1="665.95" y1="36.4" x2="672.25" y2="36.4" stroke="#f01c1c" stroke-width="1.1"/>
<line x1="665.95" y1="53.2" x2="672.25" y2="53.2" stroke="#f01c1c" stroke-width="1.1"/>
<line x1="472.7" y1="76" x2="472.7" y2="145.0" stroke="#808080" stroke-width="1" stroke-dasharray="3.2 3.2"/>
<line x1="540.3" y1="3.8" x2="540.3" y2="145.0" stroke="#808080" stroke-width="1" stroke-dasharray="3.2 3.2"/>
<line x1="607.9" y1="3.8" x2="607.9" y2="145.0" stroke="#808080" stroke-width="1" stroke-dasharray="3.2 3.2"/>
<text x="434.5" y="140.4" font-size="10" text-anchor="middle" font-weight="normal" fill="#1a1a1a" >SSP126</text>
<text x="508.5" y="140.4" font-size="10" text-anchor="middle" font-weight="normal" fill="#1a1a1a" >SSP245</text>
<text x="576.5" y="140.4" font-size="10" text-anchor="middle" font-weight="normal" fill="#1a1a1a" >SSP370</text>
<text x="648.5" y="140.4" font-size="10" text-anchor="middle" font-weight="normal" fill="#1a1a1a" >SSP585</text>
<rect x="398.6" y="3.8" width="283.6" height="141.2" fill="none" stroke="#404040" stroke-width="1.1"/>
<text x="0" y="0" font-size="17" font-weight="bold" fill="#000" transform="translate(405.0,20.6) scale(1,1.08)">b</text>
<rect x="427.3" y="12.80" width="6.6" height="7.8" fill="#a8a8a8"/>
<line x1="427.3" y1="12.80" x2="433.90000000000003" y2="12.80" stroke="#3a3a3a" stroke-width="1.1"/>
<line x1="427.3" y1="16.70" x2="433.90000000000003" y2="16.70" stroke="#3a3a3a" stroke-width="1.1"/>
<line x1="427.3" y1="20.60" x2="433.90000000000003" y2="20.60" stroke="#3a3a3a" stroke-width="1.1"/>
<text x="438.7" y="20.6" font-size="10" text-anchor="start" font-weight="normal" fill="#1a1a1a" >CMIP6 prior&#177;1SD</text>
<rect x="427.3" y="25.50" width="6.6" height="7.8" fill="#aaaaff"/>
<line x1="427.3" y1="25.50" x2="433.90000000000003" y2="25.50" stroke="#1a1aee" stroke-width="1.1"/>
<line x1="427.3" y1="29.40" x2="433.90000000000003" y2="29.40" stroke="#1a1aee" stroke-width="1.1"/>
<line x1="427.3" y1="33.30" x2="433.90000000000003" y2="33.30" stroke="#1a1aee" stroke-width="1.1"/>
<text x="438.7" y="33.3" font-size="10" text-anchor="start" font-weight="normal" fill="#1a1a1a" >EC with CRU&#177;1SD</text>
<rect x="427.3" y="38.20" width="6.6" height="7.8" fill="#a8ffff"/>
<line x1="427.3" y1="38.20" x2="433.90000000000003" y2="38.20" stroke="#22e6f6" stroke-width="1.1"/>
<line x1="427.3" y1="42.10" x2="433.90000000000003" y2="42.10" stroke="#22e6f6" stroke-width="1.1"/>
<line x1="427.3" y1="46.00" x2="433.90000000000003" y2="46.00" stroke="#22e6f6" stroke-width="1.1"/>
<text x="438.7" y="46.0" font-size="10" text-anchor="start" font-weight="normal" fill="#1a1a1a" >EC with NOAA&#177;1SD</text>
<rect x="427.3" y="50.90" width="6.6" height="7.8" fill="#fcdcc0"/>
<line x1="427.3" y1="50.90" x2="433.90000000000003" y2="50.90" stroke="#f09048" stroke-width="1.1"/>
<line x1="427.3" y1="54.80" x2="433.90000000000003" y2="54.80" stroke="#f09048" stroke-width="1.1"/>
<line x1="427.3" y1="58.70" x2="433.90000000000003" y2="58.70" stroke="#f09048" stroke-width="1.1"/>
<text x="438.7" y="58.699999999999996" font-size="10" text-anchor="start" font-weight="normal" fill="#1a1a1a" >EC with GISS&#177;1SD</text>
<rect x="427.3" y="63.60" width="6.6" height="7.8" fill="#ffaaaa"/>
<line x1="427.3" y1="63.60" x2="433.90000000000003" y2="63.60" stroke="#f01c1c" stroke-width="1.1"/>
<line x1="427.3" y1="67.50" x2="433.90000000000003" y2="67.50" stroke="#f01c1c" stroke-width="1.1"/>
<line x1="427.3" y1="71.40" x2="433.90000000000003" y2="71.40" stroke="#f01c1c" stroke-width="1.1"/>
<text x="438.7" y="71.4" font-size="10" text-anchor="start" font-weight="normal" fill="#1a1a1a" >EC with GHCN&#177;1SD</text>
<text x="0" y="0" font-size="10.1" text-anchor="middle" fill="#1a1a1a" transform="translate(356.2,81.55) rotate(-90)">Future temperature growth rate</text>
<text x="0" y="0" font-size="10" text-anchor="middle" fill="#1a1a1a" transform="translate(369.7,73.4) rotate(-90)">(<tspan font-size="7" dy="-4" dx="2.4">o</tspan><tspan dy="4">C year</tspan><tspan font-size="7" dy="-4">-1</tspan><tspan dy="4">)</tspan></text>
<line x1="399.0" y1="350.2" x2="401.6" y2="350.2" stroke="#404040" stroke-width="1"/>
<text x="395.7" y="353.8" font-size="10" text-anchor="end" font-weight="normal" fill="#1a1a1a" >0.0</text>
<line x1="399.0" y1="317.5" x2="401.6" y2="317.5" stroke="#404040" stroke-width="1"/>
<text x="395.7" y="321.1" font-size="10" text-anchor="end" font-weight="normal" fill="#1a1a1a" >0.3</text>
<line x1="399.0" y1="284.79999999999995" x2="401.6" y2="284.79999999999995" stroke="#404040" stroke-width="1"/>
<text x="395.7" y="288.4" font-size="10" text-anchor="end" font-weight="normal" fill="#1a1a1a" >0.6</text>
<line x1="399.0" y1="252.09999999999997" x2="401.6" y2="252.09999999999997" stroke="#404040" stroke-width="1"/>
<text x="395.7" y="255.69999999999996" font-size="10" text-anchor="end" font-weight="normal" fill="#1a1a1a" >0.9</text>
<line x1="399.0" y1="219.39999999999998" x2="401.6" y2="219.39999999999998" stroke="#404040" stroke-width="1"/>
<text x="395.7" y="222.99999999999997" font-size="10" text-anchor="end" font-weight="normal" fill="#1a1a1a" >1.2</text>
<rect x="409.25" y="304" width="6.3" height="31.40" fill="#a8a8a8"/>
<line x1="409.25" y1="304" x2="415.55" y2="304" stroke="#3a3a3a" stroke-width="1.1"/>
<line x1="409.25" y1="319.4" x2="415.55" y2="319.4" stroke="#3a3a3a" stroke-width="1.1"/>
<line x1="409.25" y1="335.4" x2="415.55" y2="335.4" stroke="#3a3a3a" stroke-width="1.1"/>
<rect x="422.80" y="310.4" width="6.3" height="22.00" fill="#aaaaff"/>
<line x1="422.80" y1="310.4" x2="429.10" y2="310.4" stroke="#1a1aee" stroke-width="1.1"/>
<line x1="422.80" y1="321.4" x2="429.10" y2="321.4" stroke="#1a1aee" stroke-width="1.1"/>
<line x1="422.80" y1="332.4" x2="429.10" y2="332.4" stroke="#1a1aee" stroke-width="1.1"/>
<rect x="436.35" y="309.4" width="6.3" height="23.00" fill="#a8ffff"/>
<line x1="436.35" y1="309.4" x2="442.65" y2="309.4" stroke="#22e6f6" stroke-width="1.1"/>
<line x1="436.35" y1="321.4" x2="442.65" y2="321.4" stroke="#22e6f6" stroke-width="1.1"/>
<line x1="436.35" y1="332.4" x2="442.65" y2="332.4" stroke="#22e6f6" stroke-width="1.1"/>
<rect x="449.90" y="307.6" width="6.3" height="22.80" fill="#fcdcc0"/>
<line x1="449.90" y1="307.6" x2="456.20" y2="307.6" stroke="#f09048" stroke-width="1.1"/>
<line x1="449.90" y1="319.2" x2="456.20" y2="319.2" stroke="#f09048" stroke-width="1.1"/>
<line x1="449.90" y1="330.4" x2="456.20" y2="330.4" stroke="#f09048" stroke-width="1.1"/>
<rect x="463.45" y="306.6" width="6.3" height="25.40" fill="#ffaaaa"/>
<line x1="463.45" y1="306.6" x2="469.75" y2="306.6" stroke="#f01c1c" stroke-width="1.1"/>
<line x1="463.45" y1="319.4" x2="469.75" y2="319.4" stroke="#f01c1c" stroke-width="1.1"/>
<line x1="463.45" y1="332" x2="469.75" y2="332" stroke="#f01c1c" stroke-width="1.1"/>
<rect x="476.85" y="278.4" width="6.3" height="47.80" fill="#a8a8a8"/>
<line x1="476.85" y1="278.4" x2="483.15" y2="278.4" stroke="#3a3a3a" stroke-width="1.1"/>
<line x1="476.85" y1="302.4" x2="483.15" y2="302.4" stroke="#3a3a3a" stroke-width="1.1"/>
<line x1="476.85" y1="326.2" x2="483.15" y2="326.2" stroke="#3a3a3a" stroke-width="1.1"/>
<rect x="490.40" y="285.6" width="6.3" height="41.80" fill="#aaaaff"/>
<line x1="490.40" y1="285.6" x2="496.70" y2="285.6" stroke="#1a1aee" stroke-width="1.1"/>
<line x1="490.40" y1="306.4" x2="496.70" y2="306.4" stroke="#1a1aee" stroke-width="1.1"/>
<line x1="490.40" y1="327.4" x2="496.70" y2="327.4" stroke="#1a1aee" stroke-width="1.1"/>
<rect x="503.95" y="285.4" width="6.3" height="42.20" fill="#a8ffff"/>
<line x1="503.95" y1="285.4" x2="510.25" y2="285.4" stroke="#22e6f6" stroke-width="1.1"/>
<line x1="503.95" y1="306.4" x2="510.25" y2="306.4" stroke="#22e6f6" stroke-width="1.1"/>
<line x1="503.95" y1="327.6" x2="510.25" y2="327.6" stroke="#22e6f6" stroke-width="1.1"/>
<rect x="517.50" y="282.6" width="6.3" height="42.80" fill="#fcdcc0"/>
<line x1="517.50" y1="282.6" x2="523.80" y2="282.6" stroke="#f09048" stroke-width="1.1"/>
<line x1="517.50" y1="304" x2="523.80" y2="304" stroke="#f09048" stroke-width="1.1"/>
<line x1="517.50" y1="325.4" x2="523.80" y2="325.4" stroke="#f09048" stroke-width="1.1"/>
<rect x="531.05" y="283.4" width="6.3" height="41.80" fill="#ffaaaa"/>
<line x1="531.05" y1="283.4" x2="537.35" y2="283.4" stroke="#f01c1c" stroke-width="1.1"/>
<line x1="531.05" y1="304.3" x2="537.35" y2="304.3" stroke="#f01c1c" stroke-width="1.1"/>
<line x1="531.05" y1="325.2" x2="537.35" y2="325.2" stroke="#f01c1c" stroke-width="1.1"/>
<rect x="544.45" y="249.6" width="6.3" height="68.00" fill="#a8a8a8"/>
<line x1="544.45" y1="249.6" x2="550.75" y2="249.6" stroke="#3a3a3a" stroke-width="1.1"/>
<line x1="544.45" y1="284" x2="550.75" y2="284" stroke="#3a3a3a" stroke-width="1.1"/>
<line x1="544.45" y1="317.6" x2="550.75" y2="317.6" stroke="#3a3a3a" stroke-width="1.1"/>
<rect x="558.00" y="264.6" width="6.3" height="55.40" fill="#aaaaff"/>
<line x1="558.00" y1="264.6" x2="564.30" y2="264.6" stroke="#1a1aee" stroke-width="1.1"/>
<line x1="558.00" y1="292.4" x2="564.30" y2="292.4" stroke="#1a1aee" stroke-width="1.1"/>
<line x1="558.00" y1="320" x2="564.30" y2="320" stroke="#1a1aee" stroke-width="1.1"/>
<rect x="571.55" y="264.4" width="6.3" height="56.00" fill="#a8ffff"/>
<line x1="571.55" y1="264.4" x2="577.85" y2="264.4" stroke="#22e6f6" stroke-width="1.1"/>
<line x1="571.55" y1="292.4" x2="577.85" y2="292.4" stroke="#22e6f6" stroke-width="1.1"/>
<line x1="571.55" y1="320.4" x2="577.85" y2="320.4" stroke="#22e6f6" stroke-width="1.1"/>
<rect x="585.10" y="261" width="6.3" height="56.00" fill="#fcdcc0"/>
<line x1="585.10" y1="261" x2="591.40" y2="261" stroke="#f09048" stroke-width="1.1"/>
<line x1="585.10" y1="289" x2="591.40" y2="289" stroke="#f09048" stroke-width="1.1"/>
<line x1="585.10" y1="317" x2="591.40" y2="317" stroke="#f09048" stroke-width="1.1"/>
<rect x="598.65" y="260" width="6.3" height="58.40" fill="#ffaaaa"/>
<line x1="598.65" y1="260" x2="604.95" y2="260" stroke="#f01c1c" stroke-width="1.1"/>
<line x1="598.65" y1="289.4" x2="604.95" y2="289.4" stroke="#f01c1c" stroke-width="1.1"/>
<line x1="598.65" y1="318.4" x2="604.95" y2="318.4" stroke="#f01c1c" stroke-width="1.1"/>
<rect x="612.05" y="231" width="6.3" height="75.40" fill="#a8a8a8"/>
<line x1="612.05" y1="231" x2="618.35" y2="231" stroke="#3a3a3a" stroke-width="1.1"/>
<line x1="612.05" y1="268.6" x2="618.35" y2="268.6" stroke="#3a3a3a" stroke-width="1.1"/>
<line x1="612.05" y1="306.4" x2="618.35" y2="306.4" stroke="#3a3a3a" stroke-width="1.1"/>
<rect x="625.60" y="246.6" width="6.3" height="63.40" fill="#aaaaff"/>
<line x1="625.60" y1="246.6" x2="631.90" y2="246.6" stroke="#1a1aee" stroke-width="1.1"/>
<line x1="625.60" y1="278.4" x2="631.90" y2="278.4" stroke="#1a1aee" stroke-width="1.1"/>
<line x1="625.60" y1="310" x2="631.90" y2="310" stroke="#1a1aee" stroke-width="1.1"/>
<rect x="639.15" y="246.2" width="6.3" height="64.80" fill="#a8ffff"/>
<line x1="639.15" y1="246.2" x2="645.45" y2="246.2" stroke="#22e6f6" stroke-width="1.1"/>
<line x1="639.15" y1="278.4" x2="645.45" y2="278.4" stroke="#22e6f6" stroke-width="1.1"/>
<line x1="639.15" y1="311" x2="645.45" y2="311" stroke="#22e6f6" stroke-width="1.1"/>
<rect x="652.70" y="242.8" width="6.3" height="63.60" fill="#fcdcc0"/>
<line x1="652.70" y1="242.8" x2="659.00" y2="242.8" stroke="#f09048" stroke-width="1.1"/>
<line x1="652.70" y1="274.4" x2="659.00" y2="274.4" stroke="#f09048" stroke-width="1.1"/>
<line x1="652.70" y1="306.4" x2="659.00" y2="306.4" stroke="#f09048" stroke-width="1.1"/>
<rect x="666.25" y="243.4" width="6.3" height="64.00" fill="#ffaaaa"/>
<line x1="666.25" y1="243.4" x2="672.55" y2="243.4" stroke="#f01c1c" stroke-width="1.1"/>
<line x1="666.25" y1="275.2" x2="672.55" y2="275.2" stroke="#f01c1c" stroke-width="1.1"/>
<line x1="666.25" y1="307.4" x2="672.55" y2="307.4" stroke="#f01c1c" stroke-width="1.1"/>
<line x1="473.4" y1="277.6" x2="473.4" y2="350.4" stroke="#808080" stroke-width="1" stroke-dasharray="3.2 3.2"/>
<line x1="541.0" y1="211" x2="541.0" y2="350.4" stroke="#808080" stroke-width="1" stroke-dasharray="3.2 3.2"/>
<line x1="608.4" y1="211" x2="608.4" y2="350.4" stroke="#808080" stroke-width="1" stroke-dasharray="3.2 3.2"/>
<text x="434.5" y="346.2" font-size="10" text-anchor="middle" font-weight="normal" fill="#1a1a1a" >SSP126</text>
<text x="508.5" y="346.2" font-size="10" text-anchor="middle" font-weight="normal" fill="#1a1a1a" >SSP245</text>
<text x="577" y="346.2" font-size="10" text-anchor="middle" font-weight="normal" fill="#1a1a1a" >SSP370</text>
<text x="649" y="346.2" font-size="10" text-anchor="middle" font-weight="normal" fill="#1a1a1a" >SSP585</text>
<rect x="399.0" y="208.4" width="283.4" height="141.99999999999997" fill="none" stroke="#404040" stroke-width="1.1"/>
<text x="0" y="0" font-size="17" font-weight="bold" fill="#000" transform="translate(404.2,222.9) scale(1,1.08)">d</text>
<rect x="428.2" y="213.10" width="6.6" height="7.8" fill="#a8a8a8"/>
<line x1="428.2" y1="213.10" x2="434.8" y2="213.10" stroke="#3a3a3a" stroke-width="1.1"/>
<line x1="428.2" y1="217.00" x2="434.8" y2="217.00" stroke="#3a3a3a" stroke-width="1.1"/>
<line x1="428.2" y1="220.90" x2="434.8" y2="220.90" stroke="#3a3a3a" stroke-width="1.1"/>
<text x="445.8" y="220.9" font-size="10" text-anchor="start" font-weight="normal" fill="#1a1a1a" >CMIP6 prior&#177;1SD</text>
<rect x="428.2" y="225.80" width="6.6" height="7.8" fill="#aaaaff"/>
<line x1="428.2" y1="225.80" x2="434.8" y2="225.80" stroke="#1a1aee" stroke-width="1.1"/>
<line x1="428.2" y1="229.70" x2="434.8" y2="229.70" stroke="#1a1aee" stroke-width="1.1"/>
<line x1="428.2" y1="233.60" x2="434.8" y2="233.60" stroke="#1a1aee" stroke-width="1.1"/>
<text x="445.8" y="233.6" font-size="10" text-anchor="start" font-weight="normal" fill="#1a1a1a" >EC with CRU&#177;1SD</text>
<rect x="428.2" y="238.50" width="6.6" height="7.8" fill="#a8ffff"/>
<line x1="428.2" y1="238.50" x2="434.8" y2="238.50" stroke="#22e6f6" stroke-width="1.1"/>
<line x1="428.2" y1="242.40" x2="434.8" y2="242.40" stroke="#22e6f6" stroke-width="1.1"/>
<line x1="428.2" y1="246.30" x2="434.8" y2="246.30" stroke="#22e6f6" stroke-width="1.1"/>
<text x="445.8" y="246.3" font-size="10" text-anchor="start" font-weight="normal" fill="#1a1a1a" >EC with NOAA&#177;1SD</text>
<rect x="428.2" y="251.20" width="6.6" height="7.8" fill="#fcdcc0"/>
<line x1="428.2" y1="251.20" x2="434.8" y2="251.20" stroke="#f09048" stroke-width="1.1"/>
<line x1="428.2" y1="255.10" x2="434.8" y2="255.10" stroke="#f09048" stroke-width="1.1"/>
<line x1="428.2" y1="259.00" x2="434.8" y2="259.00" stroke="#f09048" stroke-width="1.1"/>
<text x="445.8" y="259.0" font-size="10" text-anchor="start" font-weight="normal" fill="#1a1a1a" >EC with GISS&#177;1SD</text>
<rect x="428.2" y="263.90" width="6.6" height="7.8" fill="#ffaaaa"/>
<line x1="428.2" y1="263.90" x2="434.8" y2="263.90" stroke="#f01c1c" stroke-width="1.1"/>
<line x1="428.2" y1="267.80" x2="434.8" y2="267.80" stroke="#f01c1c" stroke-width="1.1"/>
<line x1="428.2" y1="271.70" x2="434.8" y2="271.70" stroke="#f01c1c" stroke-width="1.1"/>
<text x="445.8" y="271.7" font-size="10" text-anchor="start" font-weight="normal" fill="#1a1a1a" >EC with GHCN&#177;1SD</text>
<text x="0" y="0" font-size="10.1" text-anchor="middle" fill="#1a1a1a" transform="translate(361.1,281.0) rotate(-90)">Future total evaporation growth rate</text>
<text x="0" y="0" font-size="10" text-anchor="middle" fill="#1a1a1a" transform="translate(377.5,286.5) rotate(-90)">(mm year<tspan font-size="7" dy="-4">-1</tspan><tspan dy="4">)</tspan></text>
<line x1="400.4" y1="417.6" x2="403.0" y2="417.6" stroke="#404040" stroke-width="1"/>
<text x="398.2" y="421.20000000000005" font-size="10" text-anchor="end" font-weight="normal" fill="#1a1a1a" >0.0</text>
<line x1="400.4" y1="434.20000000000005" x2="403.0" y2="434.20000000000005" stroke="#404040" stroke-width="1"/>
<text x="398.2" y="437.80000000000007" font-size="10" text-anchor="end" font-weight="normal" fill="#1a1a1a" >-0.02</text>
<line x1="400.4" y1="450.8" x2="403.0" y2="450.8" stroke="#404040" stroke-width="1"/>
<text x="398.2" y="454.40000000000003" font-size="10" text-anchor="end" font-weight="normal" fill="#1a1a1a" >-0.04</text>
<line x1="400.4" y1="467.40000000000003" x2="403.0" y2="467.40000000000003" stroke="#404040" stroke-width="1"/>
<text x="398.2" y="471.00000000000006" font-size="10" text-anchor="end" font-weight="normal" fill="#1a1a1a" >-0.06</text>
<line x1="400.4" y1="484.0" x2="403.0" y2="484.0" stroke="#404040" stroke-width="1"/>
<text x="398.2" y="487.6" font-size="10" text-anchor="end" font-weight="normal" fill="#1a1a1a" >-0.08</text>
<line x1="400.4" y1="500.6" x2="403.0" y2="500.6" stroke="#404040" stroke-width="1"/>
<text x="398.2" y="504.20000000000005" font-size="10" text-anchor="end" font-weight="normal" fill="#1a1a1a" >-0.10</text>
<line x1="400.4" y1="517.2" x2="403.0" y2="517.2" stroke="#404040" stroke-width="1"/>
<text x="398.2" y="520.8000000000001" font-size="10" text-anchor="end" font-weight="normal" fill="#1a1a1a" >-0.12</text>
<line x1="400.4" y1="533.8000000000001" x2="403.0" y2="533.8000000000001" stroke="#404040" stroke-width="1"/>
<text x="398.2" y="537.4000000000001" font-size="10" text-anchor="end" font-weight="normal" fill="#1a1a1a" >-0.14</text>
<rect x="410.25" y="425" width="6.3" height="25.00" fill="#a8a8a8"/>
<line x1="410.25" y1="425" x2="416.55" y2="425" stroke="#3a3a3a" stroke-width="1.1"/>
<line x1="410.25" y1="437.6" x2="416.55" y2="437.6" stroke="#3a3a3a" stroke-width="1.1"/>
<line x1="410.25" y1="450" x2="416.55" y2="450" stroke="#3a3a3a" stroke-width="1.1"/>
<rect x="423.80" y="420.4" width="6.3" height="18.80" fill="#aaaaff"/>
<line x1="423.80" y1="420.4" x2="430.10" y2="420.4" stroke="#1a1aee" stroke-width="1.1"/>
<line x1="423.80" y1="429.6" x2="430.10" y2="429.6" stroke="#1a1aee" stroke-width="1.1"/>
<line x1="423.80" y1="439.2" x2="430.10" y2="439.2" stroke="#1a1aee" stroke-width="1.1"/>
<rect x="437.35" y="420.4" width="6.3" height="18.80" fill="#a8ffff"/>
<line x1="437.35" y1="420.4" x2="443.65" y2="420.4" stroke="#22e6f6" stroke-width="1.1"/>
<line x1="437.35" y1="429.6" x2="443.65" y2="429.6" stroke="#22e6f6" stroke-width="1.1"/>
<line x1="437.35" y1="439.2" x2="443.65" y2="439.2" stroke="#22e6f6" stroke-width="1.1"/>
<rect x="450.90" y="422.4" width="6.3" height="16.80" fill="#fcdcc0"/>
<line x1="450.90" y1="422.4" x2="457.20" y2="422.4" stroke="#f09048" stroke-width="1.1"/>
<line x1="450.90" y1="431" x2="457.20" y2="431" stroke="#f09048" stroke-width="1.1"/>
<line x1="450.90" y1="439.2" x2="457.20" y2="439.2" stroke="#f09048" stroke-width="1.1"/>
<rect x="464.45" y="421.6" width="6.3" height="17.60" fill="#ffaaaa"/>
<line x1="464.45" y1="421.6" x2="470.75" y2="421.6" stroke="#f01c1c" stroke-width="1.1"/>
<line x1="464.45" y1="430.4" x2="470.75" y2="430.4" stroke="#f01c1c" stroke-width="1.1"/>
<line x1="464.45" y1="439.2" x2="470.75" y2="439.2" stroke="#f01c1c" stroke-width="1.1"/>
<rect x="477.85" y="439.4" width="6.3" height="32.00" fill="#a8a8a8"/>
<line x1="477.85" y1="439.4" x2="484.15" y2="439.4" stroke="#3a3a3a" stroke-width="1.1"/>
<line x1="477.85" y1="455.4" x2="484.15" y2="455.4" stroke="#3a3a3a" stroke-width="1.1"/>
<line x1="477.85" y1="471.4" x2="484.15" y2="471.4" stroke="#3a3a3a" stroke-width="1.1"/>
<rect x="491.40" y="437.6" width="6.3" height="22.80" fill="#aaaaff"/>
<line x1="491.40" y1="437.6" x2="497.70" y2="437.6" stroke="#1a1aee" stroke-width="1.1"/>
<line x1="491.40" y1="449.4" x2="497.70" y2="449.4" stroke="#1a1aee" stroke-width="1.1"/>
<line x1="491.40" y1="460.4" x2="497.70" y2="460.4" stroke="#1a1aee" stroke-width="1.1"/>
<rect x="504.95" y="437.6" width="6.3" height="22.80" fill="#a8ffff"/>
<line x1="504.95" y1="437.6" x2="511.25" y2="437.6" stroke="#22e6f6" stroke-width="1.1"/>
<line x1="504.95" y1="449.4" x2="511.25" y2="449.4" stroke="#22e6f6" stroke-width="1.1"/>
<line x1="504.95" y1="460.4" x2="511.25" y2="460.4" stroke="#22e6f6" stroke-width="1.1"/>
<rect x="518.50" y="439.4" width="6.3" height="21.60" fill="#fcdcc0"/>
<line x1="518.50" y1="439.4" x2="524.80" y2="439.4" stroke="#f09048" stroke-width="1.1"/>
<line x1="518.50" y1="450.4" x2="524.80" y2="450.4" stroke="#f09048" stroke-width="1.1"/>
<line x1="518.50" y1="461" x2="524.80" y2="461" stroke="#f09048" stroke-width="1.1"/>
<rect x="532.05" y="439.4" width="6.3" height="21.60" fill="#ffaaaa"/>
<line x1="532.05" y1="439.4" x2="538.35" y2="439.4" stroke="#f01c1c" stroke-width="1.1"/>
<line x1="532.05" y1="450.4" x2="538.35" y2="450.4" stroke="#f01c1c" stroke-width="1.1"/>
<line x1="532.05" y1="461" x2="538.35" y2="461" stroke="#f01c1c" stroke-width="1.1"/>
<rect x="545.45" y="462.4" width="6.3" height="43.00" fill="#a8a8a8"/>
<line x1="545.45" y1="462.4" x2="551.75" y2="462.4" stroke="#3a3a3a" stroke-width="1.1"/>
<line x1="545.45" y1="483.6" x2="551.75" y2="483.6" stroke="#3a3a3a" stroke-width="1.1"/>
<line x1="545.45" y1="505.4" x2="551.75" y2="505.4" stroke="#3a3a3a" stroke-width="1.1"/>
<rect x="559.00" y="459" width="6.3" height="31.40" fill="#aaaaff"/>
<line x1="559.00" y1="459" x2="565.30" y2="459" stroke="#1a1aee" stroke-width="1.1"/>
<line x1="559.00" y1="474.4" x2="565.30" y2="474.4" stroke="#1a1aee" stroke-width="1.1"/>
<line x1="559.00" y1="490.4" x2="565.30" y2="490.4" stroke="#1a1aee" stroke-width="1.1"/>
<rect x="572.55" y="459" width="6.3" height="32.00" fill="#a8ffff"/>
<line x1="572.55" y1="459" x2="578.85" y2="459" stroke="#22e6f6" stroke-width="1.1"/>
<line x1="572.55" y1="474.4" x2="578.85" y2="474.4" stroke="#22e6f6" stroke-width="1.1"/>
<line x1="572.55" y1="491" x2="578.85" y2="491" stroke="#22e6f6" stroke-width="1.1"/>
<rect x="586.10" y="460.6" width="6.3" height="32.80" fill="#fcdcc0"/>
<line x1="586.10" y1="460.6" x2="592.40" y2="460.6" stroke="#f09048" stroke-width="1.1"/>
<line x1="586.10" y1="476.6" x2="592.40" y2="476.6" stroke="#f09048" stroke-width="1.1"/>
<line x1="586.10" y1="493.4" x2="592.40" y2="493.4" stroke="#f09048" stroke-width="1.1"/>
<rect x="599.65" y="460.4" width="6.3" height="32.60" fill="#ffaaaa"/>
<line x1="599.65" y1="460.4" x2="605.95" y2="460.4" stroke="#f01c1c" stroke-width="1.1"/>
<line x1="599.65" y1="476.4" x2="605.95" y2="476.4" stroke="#f01c1c" stroke-width="1.1"/>
<line x1="599.65" y1="493" x2="605.95" y2="493" stroke="#f01c1c" stroke-width="1.1"/>
<rect x="613.05" y="480" width="6.3" height="57.40" fill="#a8a8a8"/>
<line x1="613.05" y1="480" x2="619.35" y2="480" stroke="#3a3a3a" stroke-width="1.1"/>
<line x1="613.05" y1="508.6" x2="619.35" y2="508.6" stroke="#3a3a3a" stroke-width="1.1"/>
<line x1="613.05" y1="537.4" x2="619.35" y2="537.4" stroke="#3a3a3a" stroke-width="1.1"/>
<rect x="626.60" y="473.4" width="6.3" height="41.60" fill="#aaaaff"/>
<line x1="626.60" y1="473.4" x2="632.90" y2="473.4" stroke="#1a1aee" stroke-width="1.1"/>
<line x1="626.60" y1="494.4" x2="632.90" y2="494.4" stroke="#1a1aee" stroke-width="1.1"/>
<line x1="626.60" y1="515" x2="632.90" y2="515" stroke="#1a1aee" stroke-width="1.1"/>
<rect x="640.15" y="473" width="6.3" height="42.60" fill="#a8ffff"/>
<line x1="640.15" y1="473" x2="646.45" y2="473" stroke="#22e6f6" stroke-width="1.1"/>
<line x1="640.15" y1="494.4" x2="646.45" y2="494.4" stroke="#22e6f6" stroke-width="1.1"/>
<line x1="640.15" y1="515.6" x2="646.45" y2="515.6" stroke="#22e6f6" stroke-width="1.1"/>
<rect x="653.70" y="476.4" width="6.3" height="41.00" fill="#fcdcc0"/>
<line x1="653.70" y1="476.4" x2="660.00" y2="476.4" stroke="#f09048" stroke-width="1.1"/>
<line x1="653.70" y1="497.4" x2="660.00" y2="497.4" stroke="#f09048" stroke-width="1.1"/>
<line x1="653.70" y1="517.4" x2="660.00" y2="517.4" stroke="#f09048" stroke-width="1.1"/>
<rect x="667.25" y="476.4" width="6.3" height="40.20" fill="#ffaaaa"/>
<line x1="667.25" y1="476.4" x2="673.55" y2="476.4" stroke="#f01c1c" stroke-width="1.1"/>
<line x1="667.25" y1="496.4" x2="673.55" y2="496.4" stroke="#f01c1c" stroke-width="1.1"/>
<line x1="667.25" y1="516.6" x2="673.55" y2="516.6" stroke="#f01c1c" stroke-width="1.1"/>
<line x1="474.4" y1="401.4" x2="474.4" y2="542.6" stroke="#808080" stroke-width="1" stroke-dasharray="3.2 3.2"/>
<line x1="542.4" y1="401.4" x2="542.4" y2="542.6" stroke="#808080" stroke-width="1" stroke-dasharray="3.2 3.2"/>
<line x1="609.6" y1="401.4" x2="609.6" y2="542.6" stroke="#808080" stroke-width="1" stroke-dasharray="3.2 3.2"/>
<text x="436.0" y="411.6" font-size="10" text-anchor="middle" font-weight="normal" fill="#1a1a1a" >SSP126</text>
<text x="510" y="411.6" font-size="10" text-anchor="middle" font-weight="normal" fill="#1a1a1a" >SSP245</text>
<text x="578.6" y="411.6" font-size="10" text-anchor="middle" font-weight="normal" fill="#1a1a1a" >SSP370</text>
<text x="650.6" y="411.6" font-size="10" text-anchor="middle" font-weight="normal" fill="#1a1a1a" >SSP585</text>
<rect x="400.4" y="401.4" width="283.6" height="141.20000000000005" fill="none" stroke="#404040" stroke-width="1.1"/>
<text x="0" y="0" font-size="17" font-weight="bold" fill="#000" transform="translate(406.0,417.3) scale(1,1.08)">f</text>
<rect x="429.0" y="478.10" width="6.6" height="7.8" fill="#a8a8a8"/>
<line x1="429.0" y1="478.10" x2="435.6" y2="478.10" stroke="#3a3a3a" stroke-width="1.1"/>
<line x1="429.0" y1="482.00" x2="435.6" y2="482.00" stroke="#3a3a3a" stroke-width="1.1"/>
<line x1="429.0" y1="485.90" x2="435.6" y2="485.90" stroke="#3a3a3a" stroke-width="1.1"/>
<text x="446.0" y="485.9" font-size="10" text-anchor="start" font-weight="normal" fill="#1a1a1a" >CMIP6 prior&#177;1SD</text>
<rect x="429.0" y="490.80" width="6.6" height="7.8" fill="#aaaaff"/>
<line x1="429.0" y1="490.80" x2="435.6" y2="490.80" stroke="#1a1aee" stroke-width="1.1"/>
<line x1="429.0" y1="494.70" x2="435.6" y2="494.70" stroke="#1a1aee" stroke-width="1.1"/>
<line x1="429.0" y1="498.60" x2="435.6" y2="498.60" stroke="#1a1aee" stroke-width="1.1"/>
<text x="446.0" y="498.59999999999997" font-size="10" text-anchor="start" font-weight="normal" fill="#1a1a1a" >EC with CRU&#177;1SD</text>
<rect x="429.0" y="503.50" width="6.6" height="7.8" fill="#a8ffff"/>
<line x1="429.0" y1="503.50" x2="435.6" y2="503.50" stroke="#22e6f6" stroke-width="1.1"/>
<line x1="429.0" y1="507.40" x2="435.6" y2="507.40" stroke="#22e6f6" stroke-width="1.1"/>
<line x1="429.0" y1="511.30" x2="435.6" y2="511.30" stroke="#22e6f6" stroke-width="1.1"/>
<text x="446.0" y="511.29999999999995" font-size="10" text-anchor="start" font-weight="normal" fill="#1a1a1a" >EC with NOAA&#177;1SD</text>
<rect x="429.0" y="516.20" width="6.6" height="7.8" fill="#fcdcc0"/>
<line x1="429.0" y1="516.20" x2="435.6" y2="516.20" stroke="#f09048" stroke-width="1.1"/>
<line x1="429.0" y1="520.10" x2="435.6" y2="520.10" stroke="#f09048" stroke-width="1.1"/>
<line x1="429.0" y1="524.00" x2="435.6" y2="524.00" stroke="#f09048" stroke-width="1.1"/>
<text x="446.0" y="524.0" font-size="10" text-anchor="start" font-weight="normal" fill="#1a1a1a" >EC with GISS&#177;1SD</text>
<rect x="429.0" y="528.90" width="6.6" height="7.8" fill="#ffaaaa"/>
<line x1="429.0" y1="528.90" x2="435.6" y2="528.90" stroke="#f01c1c" stroke-width="1.1"/>
<line x1="429.0" y1="532.80" x2="435.6" y2="532.80" stroke="#f01c1c" stroke-width="1.1"/>
<line x1="429.0" y1="536.70" x2="435.6" y2="536.70" stroke="#f01c1c" stroke-width="1.1"/>
<text x="446.0" y="536.6999999999999" font-size="10" text-anchor="start" font-weight="normal" fill="#1a1a1a" >EC with GHCN&#177;1SD</text>
<text x="0" y="0" font-size="10.1" text-anchor="middle" fill="#1a1a1a" transform="translate(358.0,469.6) rotate(-90)">Future snow cover decrease rate</text>
<text x="0" y="0" font-size="10" text-anchor="middle" fill="#1a1a1a" transform="translate(369.1,472) rotate(-90)">(% year<tspan font-size="7" dy="-4">-1</tspan><tspan dy="4">)</tspan></text>
</svg>
</body></html>
